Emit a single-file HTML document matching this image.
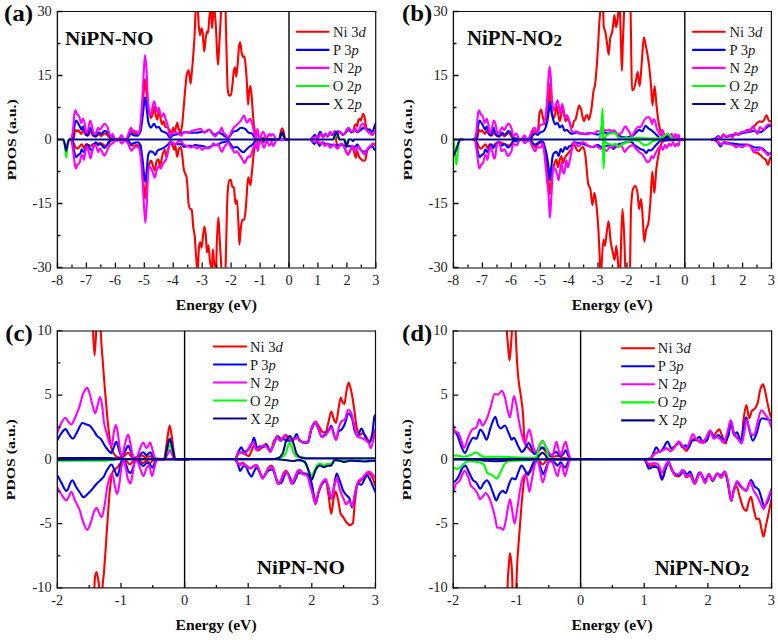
<!DOCTYPE html><html><head><meta charset="utf-8"><style>html,body{margin:0;padding:0;background:#fff;}svg{display:block;}</style></head><body>
<svg width="778" height="640" viewBox="0 0 778 640">
<rect width="778" height="640" fill="#fff"/>
<clipPath id="clipa"><rect x="57.5" y="11.5" width="318.3" height="256.0"/></clipPath>
<g clip-path="url(#clipa)" fill="none" stroke-width="2.10" stroke-linejoin="round" stroke-linecap="round">
<path d="M70.00 139.50 C71.13 139.47 72.27 139.47 73.40 139.40 C74.07 139.36 74.73 129.80 75.40 129.80 C75.93 129.80 76.47 131.40 77.00 131.40 C77.50 131.40 78.00 130.30 78.50 130.30 C79.37 130.30 80.23 133.90 81.10 133.90 C81.77 133.90 82.43 130.80 83.10 130.80 C83.97 130.80 84.83 134.70 85.70 135.00 C86.57 135.30 87.43 135.50 88.30 135.50 C88.97 135.50 89.63 130.80 90.30 130.80 C91.17 130.80 92.03 134.95 92.90 135.50 C93.77 136.05 94.63 136.50 95.50 136.50 C96.53 136.50 97.57 134.40 98.60 134.40 C99.43 134.40 100.27 136.00 101.10 136.00 C102.30 136.00 103.50 133.40 104.70 133.40 C105.73 133.40 106.77 134.60 107.80 135.50 C108.67 136.25 109.53 138.22 110.40 138.60 C111.27 138.98 112.13 139.30 113.00 139.30 C117.33 139.30 121.67 139.30 126.00 139.30 C126.80 139.30 127.60 137.71 128.40 136.50 C129.27 135.19 130.13 130.80 131.00 130.80 C132.00 130.80 133.00 132.33 134.00 132.90 C135.03 133.49 136.07 134.40 137.10 134.40 C138.00 134.40 138.90 133.65 139.80 132.40 C140.60 131.29 141.40 120.09 142.20 111.70 C142.73 106.11 143.27 96.98 143.80 91.00 C144.20 86.52 144.60 79.00 145.00 79.00 C145.50 79.00 146.00 88.35 146.50 92.60 C147.17 98.27 147.83 104.92 148.50 108.50 C149.30 112.80 150.10 118.10 150.90 118.10 C151.43 118.10 151.97 116.42 152.50 114.90 C153.03 113.38 153.57 106.90 154.10 106.90 C154.63 106.90 155.17 112.90 155.70 114.90 C156.23 116.90 156.77 119.70 157.30 119.70 C157.83 119.70 158.37 110.10 158.90 110.10 C159.43 110.10 159.97 115.73 160.50 118.10 C161.03 120.47 161.57 124.50 162.10 124.50 C162.63 124.50 163.17 121.30 163.70 121.30 C164.23 121.30 164.77 126.60 165.30 126.90 C166.10 127.36 166.90 127.22 167.70 127.60 C168.50 127.98 169.30 129.67 170.10 130.80 C170.63 131.56 171.17 133.20 171.70 133.20 C172.20 133.20 172.70 127.60 173.20 127.60 C173.73 127.60 174.27 131.60 174.80 131.60 C175.60 131.60 176.40 122.90 177.20 122.90 C177.73 122.90 178.27 127.79 178.80 129.20 C179.33 130.61 179.87 132.40 180.40 132.40 C180.93 132.40 181.47 129.21 182.00 126.10 C182.47 123.38 182.93 116.26 183.40 111.00 C184.10 103.10 184.80 92.80 185.50 86.00 C186.00 81.15 186.50 75.08 187.00 73.50 C187.53 71.81 188.07 70.40 188.60 70.40 C188.97 70.40 189.33 74.18 189.70 76.60 C190.00 78.58 190.30 83.70 190.60 83.70 C190.97 83.70 191.33 77.26 191.70 73.50 C192.23 68.02 192.77 61.95 193.30 54.80 C193.80 48.10 194.30 41.22 194.80 31.30 C195.07 26.01 195.33 15.43 195.60 11.00 C195.90 6.02 196.20 0.00 196.50 0.00 C196.83 0.00 197.17 0.00 197.50 0.00 C197.67 0.00 197.83 7.54 198.00 11.00 C198.27 16.54 198.53 23.72 198.80 26.60 C199.20 30.93 199.60 35.20 200.00 35.20 C200.53 35.20 201.07 28.20 201.60 28.20 C201.97 28.20 202.33 30.62 202.70 32.90 C203.20 36.00 203.70 51.60 204.20 51.60 C204.73 51.60 205.27 40.62 205.80 37.60 C206.30 34.77 206.80 31.30 207.30 31.30 C207.57 31.30 207.83 32.90 208.10 32.90 C208.53 32.90 208.97 22.05 209.40 17.25 C209.60 15.04 209.80 13.66 210.00 11.00 C210.20 8.34 210.40 0.00 210.60 0.00 C210.82 0.00 211.03 6.80 211.25 11.00 C211.50 15.85 211.75 28.20 212.00 28.20 C212.37 28.20 212.73 19.43 213.10 15.70 C213.27 14.01 213.43 13.20 213.60 11.00 C213.77 8.80 213.93 0.00 214.10 0.00 C214.30 0.00 214.50 7.90 214.70 11.00 C215.10 17.20 215.50 20.12 215.90 26.60 C216.27 32.54 216.63 43.59 217.00 50.00 C217.33 55.83 217.67 64.90 218.00 64.90 C218.33 64.90 218.67 55.41 219.00 50.00 C219.43 42.96 219.87 35.32 220.30 26.60 C220.53 21.90 220.77 16.16 221.00 11.00 C221.17 7.31 221.33 0.00 221.50 0.00 C222.73 0.00 223.97 0.00 225.20 0.00 C225.33 0.00 225.47 6.42 225.60 11.00 C225.77 16.72 225.93 27.25 226.10 34.40 C226.37 45.84 226.63 56.77 226.90 65.70 C227.17 74.63 227.43 86.36 227.70 89.10 C228.05 92.69 228.40 95.40 228.75 95.40 C229.43 95.40 230.12 95.40 230.80 95.40 C231.30 95.40 231.80 89.81 232.30 86.00 C232.83 81.94 233.37 72.68 233.90 70.40 C234.27 68.83 234.63 67.25 235.00 67.25 C235.42 67.25 235.83 76.60 236.25 76.60 C236.77 76.60 237.28 68.18 237.80 62.60 C238.23 57.92 238.67 47.40 239.10 45.40 C239.47 43.70 239.83 42.25 240.20 42.25 C240.70 42.25 241.20 51.36 241.70 53.20 C242.23 55.16 242.77 57.10 243.30 57.10 C243.67 57.10 244.03 56.30 244.40 56.30 C244.80 56.30 245.20 61.78 245.60 65.70 C246.03 69.95 246.47 75.98 246.90 82.90 C247.27 88.76 247.63 104.75 248.00 104.75 C248.37 104.75 248.73 94.88 249.10 92.25 C249.50 89.38 249.90 86.00 250.30 86.00 C250.73 86.00 251.17 91.21 251.60 95.40 C251.97 98.94 252.33 106.26 252.70 111.00 C253.10 116.17 253.50 122.03 253.90 125.20 C254.43 129.43 254.97 132.19 255.50 134.50 C255.87 136.09 256.23 137.99 256.60 138.40 C257.07 138.92 257.53 139.30 258.00 139.30 C259.00 139.30 260.00 139.30 261.00 139.30 C261.77 139.30 262.53 137.90 263.30 137.90 C263.87 137.90 264.43 139.30 265.00 139.30 C269.73 139.30 274.47 139.30 279.20 139.30 C279.77 139.30 280.33 132.67 280.90 131.00 C281.33 129.73 281.77 128.20 282.20 128.20 C282.63 128.20 283.07 129.73 283.50 131.00 C284.07 132.67 284.63 139.30 285.20 139.30 C286.47 139.30 287.73 139.30 289.00 139.30" stroke="#ff0000"/>
<path d="M336.00 139.30 C336.67 137.07 337.33 132.85 338.00 132.60 C338.67 132.35 339.33 132.20 340.00 132.20 C340.87 132.20 341.73 134.60 342.60 134.60 C343.27 134.60 343.93 134.40 344.60 134.10 C345.27 133.80 345.93 130.99 346.60 130.10 C347.30 129.16 348.00 128.00 348.70 128.00 C349.53 128.00 350.37 131.38 351.20 131.60 C351.87 131.78 352.53 131.90 353.20 131.90 C353.73 131.90 354.27 125.91 354.80 125.30 C355.30 124.73 355.80 124.30 356.30 124.30 C356.63 124.30 356.97 126.50 357.30 126.50 C357.63 126.50 357.97 120.80 358.30 120.20 C358.80 119.29 359.30 118.70 359.80 118.70 C360.13 118.70 360.47 120.70 360.80 120.70 C361.17 120.70 361.53 118.24 361.90 117.20 C362.33 115.97 362.77 113.90 363.20 113.90 C363.60 113.90 364.00 115.01 364.40 116.20 C364.73 117.19 365.07 120.37 365.40 122.30 C365.73 124.23 366.07 126.55 366.40 127.80 C366.77 129.17 367.13 130.35 367.50 130.90 C368.00 131.66 368.50 131.97 369.00 132.40 C369.67 132.98 370.33 133.43 371.00 133.90 C371.50 134.25 372.00 134.90 372.50 134.90 C373.00 134.90 373.50 133.19 374.00 132.40 C375.00 130.83 376.00 129.47 377.00 128.00" stroke="#ff0000"/>
<path d="M70.00 139.50 C71.10 140.40 72.20 140.81 73.30 142.20 C74.00 143.08 74.70 146.47 75.40 147.20 C76.10 147.93 76.80 148.60 77.50 148.60 C78.20 148.60 78.90 147.20 79.60 146.50 C80.30 145.80 81.00 144.40 81.70 144.40 C82.43 144.40 83.17 147.90 83.90 147.90 C84.60 147.90 85.30 144.40 86.00 144.40 C86.70 144.40 87.40 144.90 88.10 145.10 C89.03 145.37 89.97 145.80 90.90 145.80 C91.87 145.80 92.83 143.70 93.80 143.70 C94.73 143.70 95.67 144.40 96.60 144.40 C97.53 144.40 98.47 143.00 99.40 143.00 C100.33 143.00 101.27 143.35 102.20 143.70 C103.17 144.06 104.13 145.80 105.10 145.80 C106.03 145.80 106.97 145.07 107.90 144.40 C108.83 143.73 109.77 141.40 110.70 140.80 C111.47 140.31 112.23 139.80 113.00 139.80 C117.67 139.80 122.33 139.80 127.00 139.80 C128.17 139.80 129.33 144.61 130.50 145.10 C131.43 145.49 132.37 145.80 133.30 145.80 C134.27 145.80 135.23 145.10 136.20 145.10 C137.13 145.10 138.07 145.35 139.00 145.80 C139.93 146.25 140.87 155.59 141.80 163.40 C142.37 168.14 142.93 176.75 143.50 183.20 C143.97 188.51 144.43 198.80 144.90 198.80 C145.40 198.80 145.90 189.80 146.40 184.70 C146.87 179.94 147.33 171.59 147.80 169.10 C148.27 166.61 148.73 165.40 149.20 164.20 C149.80 162.66 150.40 160.60 151.00 160.60 C151.70 160.60 152.40 164.49 153.10 166.30 C153.67 167.76 154.23 170.50 154.80 170.50 C155.43 170.50 156.07 161.45 156.70 160.60 C157.30 159.79 157.90 159.20 158.50 159.20 C158.97 159.20 159.43 166.30 159.90 166.30 C160.47 166.30 161.03 161.61 161.60 159.20 C162.00 157.50 162.40 155.10 162.80 154.00 C163.53 151.98 164.27 149.80 165.00 149.80 C165.47 149.80 165.93 156.90 166.40 156.90 C167.10 156.90 167.80 150.67 168.50 148.40 C169.20 146.13 169.90 142.70 170.60 142.70 C171.30 142.70 172.00 144.24 172.70 145.60 C173.17 146.50 173.63 149.80 174.10 149.80 C174.50 149.80 174.90 145.60 175.30 145.60 C175.93 145.60 176.57 156.90 177.20 156.90 C177.83 156.90 178.47 149.23 179.10 148.40 C179.70 147.61 180.30 147.00 180.90 147.00 C181.47 147.00 182.03 153.76 182.60 158.30 C182.93 160.97 183.27 166.01 183.60 168.00 C183.97 170.19 184.33 171.68 184.70 172.70 C185.22 174.14 185.73 174.08 186.25 175.80 C186.67 177.19 187.08 182.05 187.50 186.75 C187.87 190.89 188.23 201.91 188.60 203.90 C189.13 206.80 189.67 208.58 190.20 208.90 C190.70 209.20 191.20 209.08 191.70 209.40 C192.23 209.74 192.77 223.13 193.30 227.40 C193.80 231.40 194.30 232.09 194.80 236.75 C195.07 239.23 195.33 245.24 195.60 249.25 C196.03 255.77 196.47 259.00 196.90 268.00 C197.03 270.77 197.17 280.00 197.30 280.00 C197.40 280.00 197.50 280.00 197.60 280.00 C197.73 280.00 197.87 271.29 198.00 268.00 C198.37 258.94 198.73 248.17 199.10 246.10 C199.50 243.84 199.90 242.20 200.30 242.20 C200.73 242.20 201.17 247.70 201.60 247.70 C202.10 247.70 202.60 238.73 203.10 235.20 C203.57 231.91 204.03 226.60 204.50 226.60 C204.93 226.60 205.37 231.13 205.80 235.20 C206.17 238.65 206.53 252.40 206.90 252.40 C207.40 252.40 207.90 245.30 208.40 245.30 C208.93 245.30 209.47 258.21 210.00 261.75 C210.42 264.51 210.83 264.31 211.25 268.00 C211.43 269.62 211.62 280.00 211.80 280.00 C211.93 280.00 212.07 272.08 212.20 268.00 C212.40 261.89 212.60 249.25 212.80 249.25 C213.20 249.25 213.60 258.97 214.00 261.75 C214.40 264.53 214.80 264.24 215.20 268.00 C215.37 269.56 215.53 280.00 215.70 280.00 C215.87 280.00 216.03 273.17 216.20 268.00 C216.37 262.83 216.53 250.70 216.70 246.10 C217.23 231.39 217.77 217.20 218.30 217.20 C218.67 217.20 219.03 227.70 219.40 233.60 C219.70 238.43 220.00 244.08 220.30 249.25 C220.67 255.56 221.03 261.20 221.40 268.00 C221.60 271.71 221.80 280.00 222.00 280.00 C223.00 280.00 224.00 280.00 225.00 280.00 C225.20 280.00 225.40 273.23 225.60 268.00 C226.03 256.66 226.47 225.35 226.90 211.75 C227.17 203.38 227.43 194.59 227.70 191.40 C228.20 185.41 228.70 180.97 229.20 180.50 C229.73 180.00 230.27 179.70 230.80 179.70 C231.30 179.70 231.80 186.32 232.30 186.75 C232.83 187.21 233.37 187.02 233.90 187.50 C234.43 187.98 234.97 203.90 235.50 203.90 C236.00 203.90 236.50 200.00 237.00 200.00 C237.53 200.00 238.07 217.10 238.60 227.40 C238.87 232.55 239.13 244.60 239.40 244.60 C239.90 244.60 240.40 230.84 240.90 227.40 C241.43 223.74 241.97 219.60 242.50 219.60 C243.13 219.60 243.77 219.60 244.40 219.60 C244.90 219.60 245.40 212.49 245.90 207.00 C246.23 203.34 246.57 196.81 246.90 192.00 C247.10 189.11 247.30 185.49 247.50 183.60 C247.80 180.77 248.10 177.40 248.40 177.40 C248.77 177.40 249.13 180.70 249.50 182.00 C249.83 183.18 250.17 185.10 250.50 185.10 C250.87 185.10 251.23 178.46 251.60 175.00 C251.93 171.85 252.27 168.59 252.60 165.30 C253.07 160.69 253.53 154.00 254.00 151.20 C254.40 148.80 254.80 146.76 255.20 146.00 C255.55 145.33 255.90 145.27 256.25 144.70 C256.77 143.86 257.28 141.43 257.80 140.80 C258.20 140.31 258.60 139.80 259.00 139.80 C260.00 139.80 261.00 139.80 262.00 139.80 C262.50 139.80 263.00 142.50 263.50 142.50 C264.00 142.50 264.50 139.80 265.00 139.80 C273.00 139.80 281.00 139.80 289.00 139.80" stroke="#ff0000"/>
<path d="M336.00 139.80 C336.67 142.50 337.33 147.90 338.00 147.90 C338.67 147.90 339.33 145.03 340.00 144.60 C340.67 144.17 341.33 143.80 342.00 143.80 C342.67 143.80 343.33 145.42 344.00 146.60 C344.70 147.84 345.40 150.44 346.10 151.70 C346.80 152.96 347.50 154.70 348.20 154.70 C348.87 154.70 349.53 152.14 350.20 150.70 C350.87 149.26 351.53 146.00 352.20 146.00 C352.63 146.00 353.07 148.56 353.50 150.00 C353.93 151.44 354.37 153.26 354.80 154.70 C355.13 155.81 355.47 157.80 355.80 157.80 C356.30 157.80 356.80 150.70 357.30 150.70 C357.63 150.70 357.97 153.77 358.30 154.70 C358.80 156.09 359.30 157.13 359.80 157.80 C360.50 158.73 361.20 159.34 361.90 159.80 C362.57 160.24 363.23 160.80 363.90 160.80 C364.40 160.80 364.90 160.42 365.40 159.80 C365.73 159.39 366.07 156.30 366.40 154.70 C366.77 152.94 367.13 150.51 367.50 149.70 C368.00 148.60 368.50 148.19 369.00 147.60 C369.67 146.82 370.33 146.27 371.00 145.60 C371.67 144.93 372.33 143.60 373.00 143.60 C373.67 143.60 374.33 144.61 375.00 145.00 C375.67 145.39 376.33 145.67 377.00 146.00" stroke="#ff0000"/>
<path d="M71.00 139.50 C71.43 139.47 71.87 139.46 72.30 139.40 C73.00 139.30 73.70 130.07 74.40 126.70 C74.90 124.29 75.40 120.60 75.90 120.60 C76.60 120.60 77.30 122.10 78.00 123.10 C78.50 123.81 79.00 124.78 79.50 125.70 C80.20 126.98 80.90 129.80 81.60 129.80 C82.10 129.80 82.60 126.20 83.10 126.20 C83.80 126.20 84.50 131.61 85.20 132.90 C85.87 134.13 86.53 135.50 87.20 135.50 C88.23 135.50 89.27 127.80 90.30 127.80 C91.17 127.80 92.03 132.68 92.90 133.90 C93.77 135.12 94.63 136.50 95.50 136.50 C96.53 136.50 97.57 132.40 98.60 132.40 C99.43 132.40 100.27 133.90 101.10 133.90 C102.30 133.90 103.50 130.80 104.70 130.80 C105.73 130.80 106.77 131.91 107.80 132.90 C108.67 133.73 109.53 137.00 110.40 137.00 C111.07 137.00 111.73 136.00 112.40 136.00 C113.10 136.00 113.80 138.97 114.50 139.00 C118.33 139.17 122.17 139.20 126.00 139.20 C126.80 139.20 127.60 137.88 128.40 137.00 C129.27 136.05 130.13 133.40 131.00 133.40 C132.00 133.40 133.00 135.44 134.00 135.50 C135.17 135.57 136.33 135.60 137.50 135.60 C138.53 135.60 139.57 133.51 140.60 130.80 C141.40 128.70 142.20 119.39 143.00 113.30 C143.67 108.22 144.33 97.40 145.00 97.40 C145.50 97.40 146.00 103.38 146.50 106.90 C147.17 111.59 147.83 120.76 148.50 122.90 C149.30 125.46 150.10 127.60 150.90 127.60 C151.97 127.60 153.03 123.70 154.10 123.70 C154.90 123.70 155.70 127.60 156.50 127.60 C157.30 127.60 158.10 126.90 158.90 126.90 C159.70 126.90 160.50 130.27 161.30 130.80 C162.10 131.33 162.90 131.43 163.70 131.80 C164.80 132.30 165.90 132.65 167.00 133.50 C167.97 134.25 168.93 137.80 169.90 137.80 C170.77 137.80 171.63 135.90 172.50 135.50 C174.00 134.82 175.50 134.60 177.00 134.20 C178.87 133.70 180.73 133.14 182.60 132.80 C183.73 132.59 184.87 132.30 186.00 132.30 C187.70 132.30 189.40 132.80 191.10 132.80 C192.80 132.80 194.50 132.80 196.20 132.80 C198.23 132.80 200.27 131.80 202.30 131.80 C203.27 131.80 204.23 132.10 205.20 132.10 C206.60 132.10 208.00 129.80 209.40 129.80 C210.77 129.80 212.13 134.90 213.50 134.90 C215.20 134.90 216.90 132.80 218.60 132.80 C219.80 132.80 221.00 133.57 222.20 134.20 C223.13 134.69 224.07 135.84 225.00 136.40 C225.97 136.98 226.93 137.80 227.90 137.80 C228.83 137.80 229.77 136.14 230.70 135.00 C231.40 134.15 232.10 132.12 232.80 131.80 C234.17 131.18 235.53 131.31 236.90 130.80 C238.23 130.30 239.57 127.70 240.90 127.70 C242.27 127.70 243.63 128.22 245.00 128.80 C246.33 129.37 247.67 132.41 249.00 132.80 C249.33 132.90 249.67 132.92 250.00 133.00 C250.77 133.19 251.53 133.36 252.30 133.80 C253.10 134.26 253.90 136.71 254.70 137.70 C255.22 138.34 255.73 139.30 256.25 139.30 C264.00 139.30 271.75 139.30 279.50 139.30 C280.00 139.30 280.50 135.17 281.00 134.00 C281.33 133.22 281.67 132.20 282.00 132.20 C282.33 132.20 282.67 133.22 283.00 134.00 C283.50 135.17 284.00 139.25 284.50 139.30 C286.00 139.46 287.50 139.43 289.00 139.50" stroke="#0000ff"/>
<path d="M311.00 139.60 C311.60 138.73 312.20 137.73 312.80 137.00 C313.47 136.19 314.13 134.90 314.80 134.90 C315.53 134.90 316.27 138.20 317.00 138.20 C318.07 138.20 319.13 131.80 320.20 131.80 C321.13 131.80 322.07 136.50 323.00 136.50 C323.77 136.50 324.53 134.20 325.30 134.20 C326.10 134.20 326.90 136.50 327.70 136.50 C328.47 136.50 329.23 133.40 330.00 133.40 C330.77 133.40 331.53 135.00 332.30 135.00 C333.10 135.00 333.90 132.50 334.70 132.50 C335.47 132.50 336.23 133.00 337.00 133.00 C337.33 133.00 337.67 131.40 338.00 131.40 C338.67 131.40 339.33 131.58 340.00 131.80 C340.87 132.09 341.73 134.80 342.60 134.80 C343.93 134.80 345.27 132.69 346.60 131.50 C347.30 130.88 348.00 129.50 348.70 129.50 C349.53 129.50 350.37 132.40 351.20 132.40 C352.57 132.40 353.93 130.00 355.30 130.00 C355.97 130.00 356.63 132.40 357.30 132.40 C358.67 132.40 360.03 130.45 361.40 129.40 C362.07 128.89 362.73 127.80 363.40 127.80 C364.57 127.80 365.73 129.50 366.90 129.50 C367.77 129.50 368.63 129.40 369.50 129.40 C370.17 129.40 370.83 131.90 371.50 131.90 C372.17 131.90 372.83 130.61 373.50 129.40 C374.00 128.49 374.50 125.78 375.00 124.80 C375.67 123.50 376.33 122.93 377.00 122.00" stroke="#0000ff"/>
<path d="M71.00 139.50 C71.53 140.40 72.07 140.77 72.60 142.20 C73.07 143.45 73.53 148.76 74.00 150.70 C74.70 153.60 75.40 157.10 76.10 157.10 C76.80 157.10 77.50 155.56 78.20 155.00 C78.90 154.44 79.60 154.40 80.30 153.60 C80.77 153.07 81.23 149.30 81.70 149.30 C82.43 149.30 83.17 152.10 83.90 152.10 C84.60 152.10 85.30 147.82 86.00 146.50 C86.47 145.62 86.93 144.40 87.40 144.40 C88.10 144.40 88.80 146.86 89.50 147.90 C90.20 148.94 90.90 150.70 91.60 150.70 C92.33 150.70 93.07 146.41 93.80 145.10 C94.50 143.85 95.20 142.20 95.90 142.20 C96.60 142.20 97.30 145.10 98.00 145.10 C98.70 145.10 99.40 143.70 100.10 143.70 C100.80 143.70 101.50 145.12 102.20 145.80 C102.93 146.52 103.67 147.90 104.40 147.90 C105.10 147.90 105.80 146.68 106.50 145.80 C107.20 144.92 107.90 143.08 108.60 142.20 C109.30 141.32 110.00 140.14 110.70 140.10 C115.80 139.84 120.90 139.80 126.00 139.80 C127.03 139.80 128.07 140.67 129.10 141.50 C129.80 142.07 130.50 144.40 131.20 144.40 C132.13 144.40 133.07 143.29 134.00 143.00 C135.20 142.62 136.40 142.20 137.60 142.20 C138.53 142.20 139.47 143.36 140.40 145.10 C141.10 146.40 141.80 153.67 142.50 159.20 C143.00 163.15 143.50 169.62 144.00 173.30 C144.47 176.73 144.93 181.80 145.40 181.80 C145.87 181.80 146.33 174.86 146.80 170.50 C147.27 166.14 147.73 156.46 148.20 155.00 C148.90 152.82 149.60 151.40 150.30 151.40 C151.23 151.40 152.17 151.70 153.10 152.10 C153.83 152.42 154.57 155.00 155.30 155.00 C156.00 155.00 156.70 151.28 157.40 150.70 C158.33 149.93 159.27 149.68 160.20 149.30 C161.07 148.95 161.93 148.80 162.80 148.40 C163.77 147.95 164.73 147.03 165.70 146.30 C166.63 145.60 167.57 145.03 168.50 144.10 C169.20 143.40 169.90 141.30 170.60 141.30 C171.40 141.30 172.20 143.20 173.00 143.50 C173.87 143.82 174.73 144.10 175.60 144.10 C177.47 144.10 179.33 144.10 181.20 144.10 C182.13 144.10 183.07 147.00 184.00 147.00 C184.97 147.00 185.93 146.54 186.90 146.30 C187.83 146.07 188.77 145.60 189.70 145.60 C190.63 145.60 191.57 146.30 192.50 146.30 C193.43 146.30 194.37 144.80 195.30 144.80 C196.27 144.80 197.23 145.43 198.20 145.60 C200.07 145.93 201.93 145.90 203.80 146.30 C204.77 146.50 205.73 147.70 206.70 147.70 C207.63 147.70 208.57 147.29 209.50 147.00 C211.00 146.53 212.50 145.13 214.00 145.00 C215.33 144.88 216.67 144.93 218.00 144.80 C218.93 144.71 219.87 143.00 220.80 142.70 C221.97 142.32 223.13 142.23 224.30 142.00 C225.50 141.76 226.70 141.30 227.90 141.30 C228.83 141.30 229.77 143.05 230.70 144.10 C231.63 145.15 232.57 147.70 233.50 147.70 C234.70 147.70 235.90 147.00 237.10 147.00 C238.03 147.00 238.97 149.02 239.90 149.80 C241.07 150.78 242.23 152.30 243.40 152.30 C244.33 152.30 245.27 150.67 246.20 149.80 C247.17 148.90 248.13 147.85 249.10 147.00 C249.40 146.74 249.70 146.45 250.00 146.25 C250.77 145.73 251.53 145.61 252.30 145.00 C253.10 144.37 253.90 142.42 254.70 141.50 C255.22 140.91 255.73 140.02 256.25 140.00 C267.17 139.54 278.08 139.67 289.00 139.50" stroke="#0000ff"/>
<path d="M311.00 139.80 C311.60 140.70 312.20 141.84 312.80 142.50 C313.33 143.09 313.87 143.90 314.40 143.90 C315.27 143.90 316.13 141.50 317.00 141.50 C317.83 141.50 318.67 145.90 319.50 145.90 C320.50 145.90 321.50 142.30 322.50 142.30 C323.43 142.30 324.37 143.57 325.30 143.80 C326.87 144.18 328.43 144.29 330.00 144.50 C331.33 144.68 332.67 144.83 334.00 145.00 C335.33 145.17 336.67 145.50 338.00 145.50 C339.00 145.50 340.00 144.60 341.00 144.60 C342.00 144.60 343.00 145.28 344.00 145.60 C345.00 145.92 346.00 146.50 347.00 146.50 C348.00 146.50 349.00 146.00 350.00 146.00 C351.07 146.00 352.13 147.60 353.20 147.60 C353.97 147.60 354.73 147.01 355.50 146.50 C356.10 146.10 356.70 144.60 357.30 144.60 C357.97 144.60 358.63 146.61 359.30 147.60 C360.00 148.64 360.70 150.30 361.40 150.70 C362.40 151.26 363.40 151.70 364.40 151.70 C365.40 151.70 366.40 150.51 367.40 149.70 C368.10 149.13 368.80 148.08 369.50 147.60 C370.50 146.92 371.50 146.10 372.50 146.10 C373.17 146.10 373.83 149.15 374.50 149.70 C375.33 150.39 376.17 150.57 377.00 151.00" stroke="#0000ff"/>
<path d="M69.50 139.50 C69.93 139.47 70.37 139.46 70.80 139.40 C71.50 139.30 72.20 135.15 72.90 130.80 C73.40 127.69 73.90 115.46 74.40 113.40 C74.80 111.75 75.20 110.30 75.60 110.30 C76.07 110.30 76.53 113.22 77.00 113.90 C77.50 114.62 78.00 114.71 78.50 115.40 C78.90 115.95 79.30 116.92 79.70 118.00 C80.17 119.26 80.63 123.10 81.10 123.10 C81.77 123.10 82.43 118.50 83.10 118.50 C83.63 118.50 84.17 121.43 84.70 123.70 C85.20 125.83 85.70 132.90 86.20 132.90 C86.80 132.90 87.40 131.27 88.00 129.80 C88.70 128.09 89.40 120.60 90.10 120.60 C90.70 120.60 91.30 123.70 91.90 125.70 C92.57 127.93 93.23 133.90 93.90 133.90 C94.60 133.90 95.30 133.46 96.00 132.90 C96.67 132.36 97.33 127.80 98.00 127.80 C98.70 127.80 99.40 129.80 100.10 129.80 C100.80 129.80 101.50 127.63 102.20 126.70 C103.03 125.59 103.87 123.70 104.70 123.70 C105.57 123.70 106.43 125.18 107.30 126.70 C108.00 127.93 108.70 132.59 109.40 133.90 C110.07 135.15 110.73 136.50 111.40 136.50 C111.73 136.50 112.07 133.90 112.40 133.90 C113.10 133.90 113.80 136.95 114.50 138.00 C115.33 139.25 116.17 141.00 117.00 141.00 C117.87 141.00 118.73 139.11 119.60 138.00 C120.30 137.10 121.00 135.00 121.70 135.00 C122.40 135.00 123.10 138.45 123.80 139.00 C124.47 139.53 125.13 140.00 125.80 140.00 C126.67 140.00 127.53 135.93 128.40 133.90 C129.27 131.87 130.13 127.80 131.00 127.80 C131.67 127.80 132.33 130.63 133.00 130.80 C134.03 131.06 135.07 130.94 136.10 131.20 C136.80 131.37 137.50 134.00 138.20 134.00 C138.73 134.00 139.27 131.66 139.80 129.20 C140.60 125.51 141.40 112.21 142.20 100.60 C142.73 92.86 143.27 80.24 143.80 71.90 C144.20 65.65 144.60 55.10 145.00 55.10 C145.50 55.10 146.00 62.13 146.50 68.70 C146.90 73.96 147.30 90.18 147.70 95.80 C148.23 103.30 148.77 109.92 149.30 111.70 C149.83 113.48 150.37 114.90 150.90 114.90 C151.43 114.90 151.97 109.07 152.50 106.90 C153.03 104.73 153.57 101.40 154.10 101.40 C154.63 101.40 155.17 105.19 155.70 106.90 C156.23 108.61 156.77 111.70 157.30 111.70 C157.83 111.70 158.37 107.70 158.90 107.70 C159.43 107.70 159.97 114.03 160.50 114.90 C161.03 115.77 161.57 116.50 162.10 116.50 C162.63 116.50 163.17 113.30 163.70 113.30 C164.23 113.30 164.77 116.50 165.30 118.10 C165.83 119.70 166.37 121.08 166.90 122.90 C167.43 124.72 167.97 126.81 168.50 129.20 C168.97 131.29 169.43 136.40 169.90 136.40 C170.60 136.40 171.30 134.13 172.00 133.50 C172.70 132.87 173.40 132.10 174.10 132.10 C175.40 132.10 176.70 132.52 178.00 133.00 C179.07 133.39 180.13 135.70 181.20 135.70 C182.13 135.70 183.07 131.80 184.00 131.80 C185.37 131.80 186.73 132.80 188.10 132.80 C189.47 132.80 190.83 131.25 192.20 130.80 C193.53 130.36 194.87 130.13 196.20 129.80 C197.57 129.46 198.93 128.80 200.30 128.80 C201.67 128.80 203.03 132.80 204.40 132.80 C205.73 132.80 207.07 129.50 208.40 129.50 C209.70 129.50 211.00 131.46 212.30 132.80 C213.23 133.76 214.17 136.40 215.10 136.40 C216.07 136.40 217.03 134.08 218.00 133.00 C218.93 131.96 219.87 131.64 220.80 130.00 C221.07 129.53 221.33 127.50 221.60 127.50 C222.27 127.50 222.93 131.80 223.60 132.80 C224.57 134.24 225.53 134.73 226.50 135.70 C227.20 136.40 227.90 137.80 228.60 137.80 C229.30 137.80 230.00 135.00 230.70 133.50 C231.40 132.00 232.10 129.81 232.80 128.80 C234.17 126.83 235.53 126.08 236.90 124.70 C238.23 123.35 239.57 122.29 240.90 120.60 C241.93 119.29 242.97 115.60 244.00 115.60 C245.00 115.60 246.00 122.70 247.00 122.70 C248.00 122.70 249.00 118.90 250.00 118.90 C250.77 118.90 251.53 122.00 252.30 124.40 C253.10 126.90 253.90 132.74 254.70 135.30 C255.10 136.58 255.50 138.40 255.90 138.40 C256.40 138.40 256.90 129.10 257.40 129.10 C257.93 129.10 258.47 135.81 259.00 136.90 C259.40 137.72 259.80 138.50 260.20 138.50 C260.70 138.50 261.20 134.60 261.70 133.75 C262.27 132.79 262.83 131.80 263.40 131.80 C263.87 131.80 264.33 133.97 264.80 135.00 C265.33 136.18 265.87 138.40 266.40 138.40 C266.93 138.40 267.47 136.80 268.00 136.00 C268.50 135.25 269.00 133.75 269.50 133.75 C269.90 133.75 270.30 136.00 270.70 136.00 C271.10 136.00 271.50 134.10 271.90 134.10 C272.40 134.10 272.90 134.27 273.40 134.50 C273.93 134.75 274.47 136.91 275.00 137.70 C275.53 138.49 276.07 139.60 276.60 139.60 C280.73 139.60 284.87 139.53 289.00 139.50" stroke="#ff00ff"/>
<path d="M311.00 139.60 C311.60 139.07 312.20 138.37 312.80 138.00 C313.60 137.51 314.40 136.90 315.20 136.90 C316.10 136.90 317.00 138.40 317.90 138.40 C318.80 138.40 319.70 133.75 320.60 133.75 C321.40 133.75 322.20 137.60 323.00 137.60 C323.77 137.60 324.53 133.40 325.30 133.40 C326.10 133.40 326.90 136.50 327.70 136.50 C328.47 136.50 329.23 131.80 330.00 131.80 C330.77 131.80 331.53 134.50 332.30 134.50 C333.10 134.50 333.90 131.00 334.70 131.00 C335.47 131.00 336.23 132.60 337.00 132.60 C337.33 132.60 337.67 132.47 338.00 132.40 C338.67 132.27 339.33 132.00 340.00 132.00 C340.87 132.00 341.73 134.40 342.60 134.40 C343.27 134.40 343.93 134.20 344.60 133.90 C345.27 133.60 345.93 130.79 346.60 129.90 C347.30 128.96 348.00 127.80 348.70 127.80 C349.53 127.80 350.37 131.05 351.20 131.40 C351.87 131.68 352.53 131.90 353.20 131.90 C353.90 131.90 354.60 128.40 355.30 128.40 C355.97 128.40 356.63 131.90 357.30 131.90 C357.97 131.90 358.63 130.51 359.30 129.40 C359.80 128.57 360.30 126.61 360.80 125.80 C361.50 124.66 362.20 123.30 362.90 123.30 C363.57 123.30 364.23 125.54 364.90 126.80 C365.57 128.06 366.23 130.19 366.90 130.90 C367.60 131.64 368.30 131.89 369.00 132.40 C369.67 132.89 370.33 133.43 371.00 133.90 C371.50 134.25 372.00 134.90 372.50 134.90 C373.00 134.90 373.50 133.21 374.00 132.40 C374.53 131.54 375.07 130.67 375.60 129.90 C376.07 129.22 376.53 128.63 377.00 128.00" stroke="#ff00ff"/>
<path d="M69.50 139.50 C70.03 139.70 70.57 139.74 71.10 140.10 C71.83 140.59 72.57 147.26 73.30 152.10 C73.77 155.18 74.23 160.72 74.70 163.40 C75.07 165.51 75.43 168.40 75.80 168.40 C76.37 168.40 76.93 165.70 77.50 164.90 C78.20 163.92 78.90 163.89 79.60 162.70 C80.17 161.73 80.73 156.29 81.30 155.70 C81.67 155.32 82.03 155.00 82.40 155.00 C82.90 155.00 83.40 159.90 83.90 159.90 C84.37 159.90 84.83 154.05 85.30 152.10 C85.87 149.73 86.43 146.50 87.00 146.50 C87.60 146.50 88.20 150.05 88.80 152.10 C89.37 154.03 89.93 158.50 90.50 158.50 C91.03 158.50 91.57 153.92 92.10 152.10 C92.90 149.37 93.70 145.10 94.50 145.10 C95.20 145.10 95.90 146.07 96.60 147.20 C97.07 147.95 97.53 152.10 98.00 152.10 C98.70 152.10 99.40 148.60 100.10 148.60 C100.80 148.60 101.50 150.94 102.20 152.10 C102.93 153.31 103.67 155.70 104.40 155.70 C105.10 155.70 105.80 153.53 106.50 152.10 C107.07 150.95 107.63 148.98 108.20 147.90 C108.80 146.75 109.40 145.67 110.00 145.10 C110.70 144.44 111.40 144.26 112.10 143.70 C112.83 143.11 113.57 142.23 114.30 141.50 C115.00 140.80 115.70 139.40 116.40 139.40 C117.33 139.40 118.27 139.71 119.20 140.10 C120.13 140.49 121.07 143.70 122.00 143.70 C122.73 143.70 123.47 140.80 124.20 140.80 C125.37 140.80 126.53 141.79 127.70 143.00 C128.40 143.73 129.10 146.40 129.80 147.90 C130.27 148.90 130.73 150.70 131.20 150.70 C131.90 150.70 132.60 149.19 133.30 148.60 C134.27 147.78 135.23 146.50 136.20 146.50 C137.13 146.50 138.07 147.00 139.00 147.90 C139.70 148.57 140.40 154.51 141.10 160.60 C141.57 164.66 142.03 173.20 142.50 180.40 C143.00 188.11 143.50 198.85 144.00 205.90 C144.47 212.48 144.93 222.80 145.40 222.80 C145.87 222.80 146.33 211.22 146.80 203.00 C147.13 197.13 147.47 185.88 147.80 180.40 C148.17 174.38 148.53 166.30 148.90 166.30 C149.60 166.30 150.30 167.42 151.00 168.40 C151.70 169.38 152.40 171.60 153.10 173.30 C153.67 174.68 154.23 177.60 154.80 177.60 C155.43 177.60 156.07 172.16 156.70 170.50 C157.40 168.67 158.10 166.30 158.80 166.30 C159.50 166.30 160.20 168.40 160.90 168.40 C161.53 168.40 162.17 164.96 162.80 163.90 C163.53 162.68 164.27 162.26 165.00 161.10 C165.47 160.36 165.93 159.58 166.40 158.30 C167.10 156.39 167.80 150.99 168.50 148.40 C169.20 145.81 169.90 142.00 170.60 142.00 C171.30 142.00 172.00 142.43 172.70 142.70 C173.67 143.08 174.63 144.10 175.60 144.10 C176.53 144.10 177.47 141.30 178.40 141.30 C179.33 141.30 180.27 141.30 181.20 141.30 C181.90 141.30 182.60 143.45 183.30 144.10 C184.00 144.75 184.70 145.34 185.40 145.60 C186.37 145.96 187.33 145.98 188.30 146.30 C189.23 146.60 190.17 147.70 191.10 147.70 C192.07 147.70 193.03 146.30 194.00 146.30 C194.93 146.30 195.87 148.40 196.80 148.40 C197.73 148.40 198.67 147.00 199.60 147.00 C200.53 147.00 201.47 149.80 202.40 149.80 C203.33 149.80 204.27 147.70 205.20 147.70 C206.17 147.70 207.13 148.40 208.10 148.40 C209.07 148.40 210.03 147.69 211.00 147.00 C211.90 146.36 212.80 143.40 213.70 143.40 C214.40 143.40 215.10 145.60 215.80 145.60 C216.53 145.60 217.27 144.10 218.00 144.10 C218.70 144.10 219.40 147.00 220.10 148.40 C220.70 149.60 221.30 151.90 221.90 151.90 C222.70 151.90 223.50 148.28 224.30 147.00 C225.03 145.83 225.77 144.75 226.50 144.10 C227.20 143.48 227.90 142.70 228.60 142.70 C229.30 142.70 230.00 145.87 230.70 147.00 C231.40 148.13 232.10 148.87 232.80 149.80 C233.50 150.73 234.20 152.60 234.90 152.60 C235.63 152.60 236.37 151.20 237.10 151.20 C237.80 151.20 238.50 153.64 239.20 154.70 C239.90 155.76 240.60 156.54 241.30 157.60 C242.00 158.66 242.70 160.00 243.40 161.10 C243.87 161.83 244.33 163.20 244.80 163.20 C245.53 163.20 246.27 159.31 247.00 158.30 C247.70 157.34 248.40 156.20 249.10 156.20 C249.40 156.20 249.70 157.20 250.00 157.20 C250.40 157.20 250.80 155.99 251.20 155.00 C251.63 153.93 252.07 151.19 252.50 150.00 C253.23 147.99 253.97 146.90 254.70 145.50 C255.20 144.55 255.70 142.80 256.20 142.80 C256.73 142.80 257.27 150.90 257.80 150.90 C258.30 150.90 258.80 143.82 259.30 142.80 C259.83 141.71 260.37 140.80 260.90 140.80 C261.43 140.80 261.97 143.55 262.50 144.70 C263.03 145.85 263.57 147.80 264.10 147.80 C264.63 147.80 265.17 145.09 265.70 143.90 C266.20 142.78 266.70 140.80 267.20 140.80 C267.83 140.80 268.47 145.50 269.10 145.50 C269.53 145.50 269.97 145.15 270.40 144.70 C270.77 144.32 271.13 141.60 271.50 141.60 C272.00 141.60 272.50 145.90 273.00 145.90 C273.53 145.90 274.07 144.78 274.60 143.90 C275.13 143.02 275.67 140.05 276.20 140.00 C280.47 139.56 284.73 139.67 289.00 139.50" stroke="#ff00ff"/>
<path d="M311.00 139.80 C311.60 140.37 312.20 141.36 312.80 141.50 C313.60 141.68 314.40 141.80 315.20 141.80 C316.10 141.80 317.00 140.80 317.90 140.80 C318.67 140.80 319.43 143.90 320.20 143.90 C321.00 143.90 321.80 142.30 322.60 142.30 C323.23 142.30 323.87 145.90 324.50 145.90 C325.57 145.90 326.63 143.60 327.70 143.60 C328.47 143.60 329.23 147.80 330.00 147.80 C331.33 147.80 332.67 144.30 334.00 144.30 C335.00 144.30 336.00 148.60 337.00 148.60 C337.33 148.60 337.67 148.34 338.00 148.10 C338.67 147.61 339.33 145.12 340.00 144.60 C340.67 144.08 341.33 143.60 342.00 143.60 C342.67 143.60 343.33 145.37 344.00 146.60 C344.70 147.90 345.40 150.44 346.10 151.70 C346.80 152.96 347.50 154.70 348.20 154.70 C348.87 154.70 349.53 152.19 350.20 150.70 C350.87 149.21 351.53 145.60 352.20 145.60 C352.80 145.60 353.40 147.58 354.00 148.60 C354.60 149.62 355.20 151.70 355.80 151.70 C356.30 151.70 356.80 148.14 357.30 147.60 C357.80 147.06 358.30 146.60 358.80 146.60 C359.47 146.60 360.13 148.71 360.80 149.70 C361.50 150.74 362.20 151.88 362.90 152.70 C363.57 153.48 364.23 154.70 364.90 154.70 C365.57 154.70 366.23 150.66 366.90 149.70 C367.60 148.70 368.30 148.30 369.00 147.60 C369.67 146.93 370.33 146.27 371.00 145.60 C371.67 144.93 372.33 143.60 373.00 143.60 C373.67 143.60 374.33 144.21 375.00 144.60 C375.67 144.99 376.33 145.53 377.00 146.00" stroke="#ff00ff"/>
<path d="M63.30 139.50 C63.87 142.00 64.43 143.60 65.00 147.00 C65.40 149.40 65.80 157.60 66.20 157.60 C66.60 157.60 67.00 149.58 67.40 147.00 C67.90 143.77 68.40 142.00 68.90 139.50" stroke="#00ff00"/>
<path d="M333.60 139.50 C334.53 137.93 335.47 134.80 336.40 134.80 C337.33 134.80 338.27 137.93 339.20 139.50" stroke="#00ff00"/>
<path d="M344.60 139.50 C345.23 140.67 345.87 143.00 346.50 143.00 C347.17 143.00 347.83 140.67 348.50 139.50" stroke="#00ff00"/>
<path d="M57.00 139.50 C59.10 139.50 61.20 139.50 63.30 139.50 C63.80 139.50 64.30 142.17 64.80 144.00 C65.27 145.71 65.73 150.50 66.20 150.50 C66.67 150.50 67.13 145.71 67.60 144.00 C68.10 142.17 68.60 139.50 69.10 139.50 C139.13 139.50 209.17 139.50 279.20 139.50 C279.73 139.50 280.27 136.19 280.80 135.00 C281.27 133.96 281.73 132.40 282.20 132.40 C282.67 132.40 283.13 133.96 283.60 135.00 C284.13 136.19 284.67 139.50 285.20 139.50 C301.10 139.50 317.00 139.50 332.90 139.50 C334.07 139.50 335.23 131.80 336.40 131.80 C337.50 131.80 338.60 139.50 339.70 139.50 C341.17 139.50 342.63 139.50 344.10 139.50 C344.90 139.50 345.70 146.50 346.50 146.50 C347.33 146.50 348.17 139.50 349.00 139.50 C349.83 139.50 350.67 139.50 351.50 139.50 C351.93 139.50 352.37 141.30 352.80 141.30 C353.27 141.30 353.73 139.50 354.20 139.50 C362.13 139.50 370.07 139.50 378.00 139.50" stroke="#06068a"/>
</g>
<line x1="289.0" y1="11.5" x2="289.0" y2="267.5" stroke="#000" stroke-width="1.4"/>
<line x1="56.90" y1="11.50" x2="376.40" y2="11.50" stroke="#111" stroke-width="1.10"/>
<line x1="56.90" y1="268.00" x2="376.40" y2="268.00" stroke="#000" stroke-width="1.00"/>
<line x1="57.40" y1="11.00" x2="57.40" y2="268.30" stroke="#111" stroke-width="1.35"/>
<line x1="375.70" y1="11.00" x2="375.70" y2="268.30" stroke="#111" stroke-width="1.20"/>
<path d="M57.5 267.5v-5M86.4 267.5v-5M115.4 267.5v-5M144.3 267.5v-5M173.2 267.5v-5M202.2 267.5v-5M231.1 267.5v-5M260.1 267.5v-5M289.0 267.5v-5M317.9 267.5v-5M346.9 267.5v-5M375.8 267.5v-5M72.0 267.5v-3M100.9 267.5v-3M129.8 267.5v-3M158.8 267.5v-3M187.7 267.5v-3M216.7 267.5v-3M245.6 267.5v-3M274.5 267.5v-3M303.5 267.5v-3M332.4 267.5v-3M361.3 267.5v-3M57.5 11.5h5M57.5 75.5h5M57.5 139.5h5M57.5 203.5h5M57.5 267.5h5M57.5 43.5h3M57.5 107.5h3M57.5 171.5h3M57.5 235.5h3" stroke="#111" stroke-width="1.3" fill="none"/>
<clipPath id="clipb"><rect x="453.5" y="11.5" width="318.0" height="256.0"/></clipPath>
<g clip-path="url(#clipb)" fill="none" stroke-width="2.10" stroke-linejoin="round" stroke-linecap="round">
<path d="M473.60 139.50 C474.73 139.47 475.87 139.47 477.00 139.40 C477.67 139.36 478.33 129.80 479.00 129.80 C479.53 129.80 480.07 131.40 480.60 131.40 C481.10 131.40 481.60 130.30 482.10 130.30 C482.97 130.30 483.83 133.90 484.70 133.90 C485.37 133.90 486.03 130.80 486.70 130.80 C487.57 130.80 488.43 134.70 489.30 135.00 C490.17 135.30 491.03 135.50 491.90 135.50 C492.57 135.50 493.23 130.80 493.90 130.80 C494.27 130.80 494.63 133.96 495.00 134.40 C496.27 135.93 497.53 136.80 498.80 136.80 C499.87 136.80 500.93 134.40 502.00 134.40 C502.80 134.40 503.60 136.30 504.40 136.30 C505.80 136.30 507.20 133.00 508.60 133.00 C509.53 133.00 510.47 135.21 511.40 136.30 C512.20 137.24 513.00 138.96 513.80 139.10 C514.87 139.29 515.93 139.40 517.00 139.40 C521.33 139.40 525.67 139.40 530.00 139.40 C530.83 139.40 531.67 134.83 532.50 133.50 C533.30 132.22 534.10 130.60 534.90 130.60 C535.67 130.60 536.43 132.50 537.20 132.50 C537.57 132.50 537.93 129.53 538.30 127.00 C538.70 124.24 539.10 115.06 539.50 113.40 C540.03 111.19 540.57 109.50 541.10 109.50 C541.63 109.50 542.17 114.32 542.70 116.60 C543.20 118.74 543.70 121.69 544.20 122.80 C544.73 123.98 545.27 125.20 545.80 125.20 C546.30 125.20 546.80 119.37 547.30 115.00 C547.73 111.21 548.17 105.05 548.60 99.40 C548.97 94.62 549.33 83.75 549.70 83.75 C550.07 83.75 550.43 94.69 550.80 99.40 C551.20 104.54 551.60 111.47 552.00 113.40 C552.53 115.98 553.07 118.10 553.60 118.10 C554.13 118.10 554.67 115.41 555.20 113.40 C555.70 111.52 556.20 105.60 556.70 105.60 C557.23 105.60 557.77 112.40 558.30 115.00 C558.80 117.43 559.30 121.25 559.80 121.25 C560.33 121.25 560.87 116.21 561.40 113.40 C561.77 111.47 562.13 107.20 562.50 107.20 C563.03 107.20 563.57 112.61 564.10 115.00 C564.60 117.24 565.10 121.25 565.60 121.25 C566.30 121.25 567.00 118.10 567.70 118.10 C568.20 118.10 568.70 120.03 569.20 121.25 C569.73 122.55 570.27 125.07 570.80 125.90 C571.30 126.68 571.80 127.50 572.30 127.50 C572.83 127.50 573.37 122.08 573.90 121.25 C574.43 120.42 574.97 120.55 575.50 119.70 C576.00 118.91 576.50 115.38 577.00 113.40 C577.70 110.63 578.40 105.60 579.10 105.60 C579.70 105.60 580.30 107.19 580.90 108.75 C581.43 110.14 581.97 114.65 582.50 116.60 C583.03 118.55 583.57 121.25 584.10 121.25 C584.60 121.25 585.10 117.36 585.60 116.60 C586.13 115.79 586.67 115.00 587.20 115.00 C587.72 115.00 588.23 119.70 588.75 119.70 C589.27 119.70 589.78 117.06 590.30 115.00 C590.83 112.87 591.37 109.46 591.90 105.60 C592.40 101.99 592.90 94.38 593.40 91.60 C593.93 88.63 594.47 88.38 595.00 85.30 C595.53 82.22 596.07 74.78 596.60 68.00 C597.10 61.65 597.60 53.26 598.10 45.00 C598.57 37.29 599.03 26.85 599.50 20.00 C599.73 16.57 599.97 14.54 600.20 11.00 C600.40 7.96 600.60 0.00 600.80 0.00 C601.47 0.00 602.13 0.00 602.80 0.00 C603.13 0.00 603.47 25.35 603.80 27.20 C604.27 29.78 604.73 29.44 605.20 31.30 C605.90 34.09 606.60 40.84 607.30 45.50 C607.77 48.61 608.23 54.70 608.70 54.70 C609.23 54.70 609.77 39.61 610.30 37.40 C610.83 35.19 611.37 35.29 611.90 33.30 C612.40 31.43 612.90 26.90 613.40 23.20 C613.73 20.73 614.07 15.10 614.40 15.10 C614.93 15.10 615.47 27.20 616.00 27.20 C616.33 27.20 616.67 24.99 617.00 23.20 C617.47 20.69 617.93 17.83 618.40 11.00 C618.53 9.05 618.67 0.00 618.80 0.00 C619.07 0.00 619.33 0.00 619.60 0.00 C619.73 0.00 619.87 7.01 620.00 11.00 C620.30 19.99 620.60 32.04 620.90 41.50 C621.23 52.01 621.57 70.90 621.90 70.90 C622.23 70.90 622.57 50.61 622.90 41.50 C623.30 30.57 623.70 21.64 624.10 11.00 C624.23 7.45 624.37 0.00 624.50 0.00 C626.40 0.00 628.30 0.00 630.20 0.00 C630.33 0.00 630.47 5.93 630.60 11.00 C630.80 18.61 631.00 40.24 631.20 51.60 C631.47 66.74 631.73 90.20 632.00 90.20 C632.57 90.20 633.13 89.76 633.70 89.20 C634.37 88.54 635.03 84.89 635.70 82.10 C636.37 79.31 637.03 71.90 637.70 71.90 C638.37 71.90 639.03 86.10 639.70 86.10 C640.40 86.10 641.10 70.12 641.80 61.80 C642.47 53.88 643.13 37.40 643.80 37.40 C644.47 37.40 645.13 42.34 645.80 45.50 C646.83 50.40 647.87 55.94 648.90 63.80 C649.57 68.87 650.23 76.38 650.90 84.10 C651.43 90.27 651.97 105.40 652.50 105.40 C653.20 105.40 653.90 86.10 654.60 86.10 C655.27 86.10 655.93 100.57 656.60 106.40 C657.40 113.40 658.20 120.63 659.00 124.70 C659.70 128.26 660.40 130.65 661.10 132.80 C661.77 134.84 662.43 137.14 663.10 137.90 C663.73 138.62 664.37 139.30 665.00 139.30 C671.67 139.30 678.33 139.30 685.00 139.30" stroke="#ff0000"/>
<path d="M712.00 139.80 C713.13 139.93 714.27 140.20 715.40 140.20 C716.40 140.20 717.40 137.10 718.40 137.10 C719.13 137.10 719.87 138.60 720.60 138.60 C721.60 138.60 722.60 134.90 723.60 134.90 C724.57 134.90 725.53 137.10 726.50 137.10 C727.50 137.10 728.50 135.60 729.50 135.60 C730.47 135.60 731.43 137.10 732.40 137.10 C733.40 137.10 734.40 133.40 735.40 133.40 C736.37 133.40 737.33 134.90 738.30 134.90 C739.30 134.90 740.30 132.96 741.30 132.60 C742.30 132.24 743.30 132.24 744.30 131.90 C745.27 131.57 746.23 130.39 747.20 130.10 C748.20 129.80 749.20 129.81 750.20 129.50 C751.67 129.04 753.13 127.07 754.60 125.70 C755.60 124.77 756.60 123.47 757.60 122.70 C758.33 122.14 759.07 121.30 759.80 121.30 C760.53 121.30 761.27 122.00 762.00 122.00 C762.73 122.00 763.47 120.79 764.20 119.80 C764.93 118.81 765.67 115.30 766.40 115.30 C766.90 115.30 767.40 117.30 767.90 118.30 C768.40 119.30 768.90 121.30 769.40 121.30 C770.27 121.30 771.13 121.10 772.00 121.00" stroke="#ff0000"/>
<path d="M473.60 139.50 C474.70 140.40 475.80 140.81 476.90 142.20 C477.60 143.08 478.30 146.47 479.00 147.20 C479.70 147.93 480.40 148.60 481.10 148.60 C481.80 148.60 482.50 147.20 483.20 146.50 C483.90 145.80 484.60 144.40 485.30 144.40 C486.03 144.40 486.77 147.90 487.50 147.90 C488.20 147.90 488.90 144.40 489.60 144.40 C490.30 144.40 491.00 144.90 491.70 145.10 C492.63 145.37 493.57 145.80 494.50 145.80 C494.67 145.80 494.83 144.37 495.00 144.20 C496.27 142.91 497.53 142.40 498.80 142.40 C500.67 142.40 502.53 143.20 504.40 143.80 C505.80 144.25 507.20 145.60 508.60 145.60 C509.53 145.60 510.47 144.66 511.40 143.80 C512.20 143.06 513.00 140.10 513.80 140.00 C514.87 139.87 515.93 139.80 517.00 139.80 C521.33 139.80 525.67 139.88 530.00 140.20 C531.17 140.29 532.33 143.17 533.50 144.70 C534.10 145.49 534.70 147.10 535.30 147.10 C536.27 147.10 537.23 144.47 538.20 143.80 C539.13 143.15 540.07 142.40 541.00 142.40 C541.47 142.40 541.93 142.86 542.40 143.40 C543.13 144.24 543.87 148.61 544.60 151.90 C545.30 155.04 546.00 158.16 546.70 163.10 C547.30 167.33 547.90 175.66 548.50 181.40 C548.97 185.86 549.43 194.10 549.90 194.10 C550.37 194.10 550.83 185.22 551.30 181.40 C551.87 176.76 552.43 171.47 553.00 168.80 C553.70 165.51 554.40 163.12 555.10 161.70 C555.57 160.75 556.03 159.60 556.50 159.60 C556.97 159.60 557.43 167.40 557.90 167.40 C558.60 167.40 559.30 160.73 560.00 158.90 C560.47 157.68 560.93 156.10 561.40 156.10 C561.87 156.10 562.33 163.10 562.80 163.10 C563.53 163.10 564.27 158.78 565.00 157.50 C565.70 156.28 566.40 155.63 567.10 154.70 C567.80 153.77 568.50 152.83 569.20 151.90 C569.90 150.97 570.60 150.40 571.30 149.10 C571.87 148.05 572.43 144.10 573.00 144.10 C573.70 144.10 574.40 145.19 575.10 146.10 C575.77 146.97 576.43 149.66 577.10 150.20 C577.77 150.74 578.43 151.20 579.10 151.20 C579.80 151.20 580.50 148.75 581.20 148.20 C581.87 147.67 582.53 147.10 583.20 147.10 C583.87 147.10 584.53 150.71 585.20 154.30 C585.73 157.17 586.27 164.92 586.80 170.20 C587.27 174.82 587.73 182.19 588.20 184.00 C588.90 186.71 589.60 186.33 590.30 188.80 C591.00 191.27 591.70 205.10 592.40 205.10 C593.07 205.10 593.73 192.90 594.40 192.90 C595.07 192.90 595.73 199.64 596.40 205.10 C597.10 210.83 597.80 220.00 598.50 231.50 C599.03 240.26 599.57 255.47 600.10 268.00 C600.27 271.92 600.43 280.00 600.60 280.00 C600.77 280.00 600.93 280.00 601.10 280.00 C601.23 280.00 601.37 270.79 601.50 268.00 C602.17 254.04 602.83 239.60 603.50 239.60 C604.00 239.60 604.50 245.70 605.00 245.70 C605.53 245.70 606.07 237.13 606.60 233.50 C607.27 228.96 607.93 221.30 608.60 221.30 C609.30 221.30 610.00 237.06 610.70 241.70 C611.37 246.12 612.03 248.78 612.70 251.80 C613.37 254.82 614.03 260.00 614.70 260.00 C615.23 260.00 615.77 245.70 616.30 245.70 C617.00 245.70 617.70 256.81 618.40 268.00 C618.57 270.67 618.73 280.00 618.90 280.00 C619.27 280.00 619.63 280.00 620.00 280.00 C620.13 280.00 620.27 271.97 620.40 268.00 C621.07 248.14 621.73 209.10 622.40 209.10 C622.90 209.10 623.40 220.36 623.90 229.50 C624.37 238.03 624.83 256.17 625.30 268.00 C625.47 272.23 625.63 280.00 625.80 280.00 C627.03 280.00 628.27 280.00 629.50 280.00 C629.67 280.00 629.83 273.43 630.00 268.00 C630.33 257.14 630.67 215.36 631.00 209.10 C631.67 196.57 632.33 190.32 633.00 188.80 C633.80 186.98 634.60 185.80 635.40 185.80 C636.10 185.80 636.80 189.27 637.50 192.90 C638.03 195.67 638.57 209.10 639.10 209.10 C639.77 209.10 640.43 199.00 641.10 199.00 C641.67 199.00 642.23 211.51 642.80 219.30 C643.27 225.71 643.73 241.70 644.20 241.70 C644.87 241.70 645.53 232.13 646.20 229.50 C646.90 226.74 647.60 226.58 648.30 223.40 C648.97 220.37 649.63 211.25 650.30 203.00 C650.97 194.75 651.63 171.50 652.30 171.50 C652.97 171.50 653.63 192.90 654.30 192.90 C655.00 192.90 655.70 174.29 656.40 168.50 C657.10 162.71 657.80 158.68 658.50 155.00 C659.27 150.96 660.03 146.60 660.80 144.80 C661.37 143.47 661.93 142.46 662.50 142.00 C663.50 141.19 664.50 140.58 665.50 140.50 C672.00 139.95 678.50 140.03 685.00 139.80" stroke="#ff0000"/>
<path d="M712.00 139.20 C713.13 139.53 714.27 139.72 715.40 140.20 C716.40 140.62 717.40 141.65 718.40 142.40 C719.37 143.12 720.33 144.60 721.30 144.60 C722.30 144.60 723.30 141.70 724.30 141.70 C725.27 141.70 726.23 142.77 727.20 143.10 C728.20 143.44 729.20 143.65 730.20 143.90 C731.20 144.15 732.20 144.24 733.20 144.60 C734.17 144.95 735.13 146.80 736.10 146.80 C737.10 146.80 738.10 145.30 739.10 145.30 C740.07 145.30 741.03 146.80 742.00 146.80 C743.00 146.80 744.00 145.62 745.00 145.30 C746.00 144.98 747.00 144.60 748.00 144.60 C749.20 144.60 750.40 146.54 751.60 147.90 C752.60 149.04 753.60 151.90 754.60 152.30 C755.60 152.70 756.60 152.64 757.60 153.00 C758.57 153.35 759.53 154.46 760.50 155.30 C761.50 156.17 762.50 157.41 763.50 158.20 C764.23 158.78 764.97 158.92 765.70 159.70 C766.43 160.48 767.17 164.90 767.90 164.90 C768.63 164.90 769.37 159.42 770.10 158.20 C770.73 157.15 771.37 156.73 772.00 156.00" stroke="#ff0000"/>
<path d="M474.60 139.50 C475.03 139.47 475.47 139.46 475.90 139.40 C476.60 139.30 477.30 130.07 478.00 126.70 C478.50 124.29 479.00 120.60 479.50 120.60 C480.20 120.60 480.90 122.10 481.60 123.10 C482.10 123.81 482.60 124.78 483.10 125.70 C483.80 126.98 484.50 129.80 485.20 129.80 C485.70 129.80 486.20 126.20 486.70 126.20 C487.40 126.20 488.10 131.61 488.80 132.90 C489.47 134.13 490.13 135.50 490.80 135.50 C491.83 135.50 492.87 127.80 493.90 127.80 C494.27 127.80 494.63 131.83 495.00 132.50 C496.27 134.82 497.53 136.30 498.80 136.30 C499.87 136.30 500.93 132.50 502.00 132.50 C502.80 132.50 503.60 134.90 504.40 134.90 C505.80 134.90 507.20 131.10 508.60 131.10 C509.53 131.10 510.47 132.79 511.40 134.00 C512.20 135.04 513.00 137.86 513.80 138.10 C514.87 138.42 515.93 138.40 517.00 138.60 C518.00 138.79 519.00 139.30 520.00 139.30 C523.33 139.30 526.67 139.30 530.00 139.30 C531.00 139.30 532.00 136.28 533.00 135.30 C533.77 134.55 534.53 133.50 535.30 133.50 C536.10 133.50 536.90 134.90 537.70 134.90 C538.47 134.90 539.23 132.88 540.00 132.50 C540.93 132.03 541.87 132.08 542.80 131.60 C543.53 131.22 544.27 130.28 545.00 129.00 C545.77 127.66 546.53 124.78 547.30 121.25 C547.83 118.79 548.37 114.21 548.90 110.30 C549.27 107.61 549.63 101.70 550.00 101.70 C550.42 101.70 550.83 107.86 551.25 110.30 C551.77 113.32 552.28 116.28 552.80 118.10 C553.60 120.92 554.40 124.40 555.20 124.40 C555.97 124.40 556.73 122.80 557.50 122.80 C558.27 122.80 559.03 127.50 559.80 127.50 C560.60 127.50 561.40 125.20 562.20 125.20 C562.97 125.20 563.73 130.60 564.50 130.60 C565.30 130.60 566.10 129.80 566.90 129.80 C567.67 129.80 568.43 131.59 569.20 132.20 C570.00 132.84 570.80 133.75 571.60 133.75 C572.63 133.75 573.67 133.26 574.70 133.00 C575.73 132.74 576.77 132.20 577.80 132.20 C578.83 132.20 579.87 133.75 580.90 133.75 C582.47 133.75 584.03 133.75 585.60 133.75 C587.17 133.75 588.73 133.00 590.30 133.00 C591.87 133.00 593.43 133.71 595.00 134.00 C596.00 134.19 597.00 134.50 598.00 134.50 C599.00 134.50 600.00 133.82 601.00 133.50 C602.10 133.15 603.20 132.50 604.30 132.50 C605.30 132.50 606.30 133.50 607.30 133.50 C608.33 133.50 609.37 132.83 610.40 132.50 C611.43 132.17 612.47 131.50 613.50 131.50 C614.20 131.50 614.90 132.46 615.60 133.00 C616.60 133.77 617.60 134.86 618.60 135.50 C619.63 136.16 620.67 136.89 621.70 137.10 C623.07 137.38 624.43 137.60 625.80 137.60 C627.20 137.60 628.60 136.99 630.00 136.60 C631.00 136.32 632.00 136.10 633.00 135.60 C634.03 135.08 635.07 133.44 636.10 132.50 C637.13 131.56 638.17 129.90 639.20 129.90 C640.23 129.90 641.27 131.50 642.30 131.50 C643.33 131.50 644.37 125.80 645.40 125.80 C646.43 125.80 647.47 127.65 648.50 128.40 C649.53 129.15 650.57 129.64 651.60 130.40 C652.60 131.14 653.60 132.07 654.60 133.00 C655.63 133.96 656.67 135.04 657.70 136.10 C658.47 136.88 659.23 138.17 660.00 138.50 C661.00 138.94 662.00 139.28 663.00 139.30 C670.33 139.47 677.67 139.43 685.00 139.50" stroke="#0000ff"/>
<path d="M712.00 139.50 C713.13 139.17 714.27 139.00 715.40 138.50 C716.40 138.06 717.40 136.00 718.40 136.00 C719.13 136.00 719.87 138.30 720.60 138.30 C721.60 138.30 722.60 134.60 723.60 134.60 C724.57 134.60 725.53 137.00 726.50 137.00 C727.50 137.00 728.50 136.09 729.50 135.80 C731.47 135.22 733.43 134.88 735.40 134.50 C737.37 134.12 739.33 133.86 741.30 133.50 C743.27 133.14 745.23 132.71 747.20 132.30 C748.47 132.04 749.73 131.74 751.00 131.50 C752.20 131.28 753.40 130.90 754.60 130.90 C755.60 130.90 756.60 131.58 757.60 131.80 C758.57 132.01 759.53 132.30 760.50 132.30 C761.50 132.30 762.50 130.85 763.50 130.10 C764.47 129.38 765.43 128.62 766.40 127.90 C767.40 127.15 768.40 125.70 769.40 125.70 C770.27 125.70 771.13 125.90 772.00 126.00" stroke="#0000ff"/>
<path d="M474.60 139.50 C475.13 140.40 475.67 140.77 476.20 142.20 C476.67 143.45 477.13 148.76 477.60 150.70 C478.30 153.60 479.00 157.10 479.70 157.10 C480.40 157.10 481.10 155.56 481.80 155.00 C482.50 154.44 483.20 154.40 483.90 153.60 C484.37 153.07 484.83 149.30 485.30 149.30 C486.03 149.30 486.77 152.10 487.50 152.10 C488.20 152.10 488.90 147.82 489.60 146.50 C490.07 145.62 490.53 144.40 491.00 144.40 C491.70 144.40 492.40 147.90 493.10 147.90 C493.73 147.90 494.37 146.29 495.00 145.60 C496.27 144.22 497.53 141.90 498.80 141.90 C499.73 141.90 500.67 145.60 501.60 145.60 C502.53 145.60 503.47 144.20 504.40 144.20 C505.63 144.20 506.87 147.50 508.10 147.50 C509.20 147.50 510.30 145.98 511.40 144.70 C512.20 143.77 513.00 140.50 513.80 140.50 C514.87 140.50 515.93 141.40 517.00 141.40 C518.00 141.40 519.00 140.00 520.00 140.00 C523.33 140.00 526.67 140.13 530.00 140.50 C531.17 140.63 532.33 143.06 533.50 143.80 C534.10 144.18 534.70 144.70 535.30 144.70 C536.27 144.70 537.23 143.35 538.20 142.80 C539.13 142.27 540.07 141.40 541.00 141.40 C541.70 141.40 542.40 141.62 543.10 142.00 C543.60 142.27 544.10 144.65 544.60 146.30 C545.30 148.62 546.00 151.10 546.70 154.70 C547.30 157.79 547.90 162.63 548.50 167.40 C548.97 171.11 549.43 180.00 549.90 180.00 C550.37 180.00 550.83 171.37 551.30 167.40 C551.77 163.43 552.23 157.66 552.70 156.10 C553.27 154.20 553.83 152.93 554.40 152.60 C555.10 152.19 555.80 151.90 556.50 151.90 C557.20 151.90 557.90 156.10 558.60 156.10 C559.30 156.10 560.00 149.10 560.70 149.10 C561.40 149.10 562.10 151.90 562.80 151.90 C563.53 151.90 564.27 147.00 565.00 147.00 C565.70 147.00 566.40 149.10 567.10 149.10 C567.80 149.10 568.50 146.67 569.20 146.30 C569.90 145.93 570.60 145.96 571.30 145.60 C572.23 145.12 573.17 142.00 574.10 142.00 C575.13 142.00 576.17 142.60 577.20 142.80 C578.50 143.05 579.80 143.12 581.10 143.40 C582.53 143.70 583.97 144.41 585.40 144.90 C586.80 145.38 588.20 145.99 589.60 146.30 C591.00 146.61 592.40 147.00 593.80 147.00 C594.20 147.00 594.60 145.98 595.00 145.80 C596.00 145.34 597.00 145.00 598.00 145.00 C599.07 145.00 600.13 146.90 601.20 146.90 C602.23 146.90 603.27 146.58 604.30 146.40 C605.30 146.22 606.30 146.09 607.30 145.80 C608.00 145.60 608.70 144.80 609.40 144.80 C610.10 144.80 610.80 146.20 611.50 146.90 C612.17 147.57 612.83 148.90 613.50 148.90 C614.53 148.90 615.57 146.61 616.60 145.80 C617.63 144.99 618.67 144.07 619.70 143.80 C620.73 143.53 621.77 143.53 622.80 143.30 C623.80 143.08 624.80 142.38 625.80 142.20 C627.20 141.94 628.60 141.70 630.00 141.70 C630.67 141.70 631.33 141.92 632.00 142.20 C632.70 142.49 633.40 144.18 634.10 144.80 C635.13 145.72 636.17 146.21 637.20 146.90 C638.20 147.57 639.20 148.44 640.20 148.90 C641.23 149.38 642.27 149.46 643.30 150.00 C644.33 150.54 645.37 153.00 646.40 153.00 C647.10 153.00 647.80 150.00 648.50 150.00 C649.33 150.00 650.17 150.50 651.00 150.50 C651.87 150.50 652.73 148.84 653.60 147.90 C654.47 146.96 655.33 145.74 656.20 144.80 C657.07 143.86 657.93 142.95 658.80 142.20 C659.53 141.56 660.27 140.58 661.00 140.50 C669.00 139.66 677.00 139.83 685.00 139.50" stroke="#0000ff"/>
<path d="M712.00 139.50 C713.13 139.83 714.27 140.01 715.40 140.50 C716.17 140.83 716.93 141.46 717.70 142.20 C718.67 143.13 719.63 146.40 720.60 146.40 C721.47 146.40 722.33 142.70 723.20 142.70 C724.13 142.70 725.07 143.50 726.00 143.50 C727.33 143.50 728.67 143.20 730.00 143.20 C731.67 143.20 733.33 143.79 735.00 144.00 C736.67 144.21 738.33 144.50 740.00 144.50 C741.67 144.50 743.33 144.50 745.00 144.50 C746.67 144.50 748.33 145.06 750.00 145.50 C751.67 145.94 753.33 147.50 755.00 147.50 C756.67 147.50 758.33 147.50 760.00 147.50 C761.17 147.50 762.33 148.49 763.50 149.30 C764.47 149.97 765.43 151.65 766.40 152.30 C767.40 152.98 768.40 153.80 769.40 153.80 C770.27 153.80 771.13 153.27 772.00 153.00" stroke="#0000ff"/>
<path d="M473.10 139.50 C473.53 139.47 473.97 139.46 474.40 139.40 C475.10 139.30 475.80 135.15 476.50 130.80 C477.00 127.69 477.50 115.46 478.00 113.40 C478.40 111.75 478.80 110.30 479.20 110.30 C479.67 110.30 480.13 113.22 480.60 113.90 C481.10 114.62 481.60 114.71 482.10 115.40 C482.50 115.95 482.90 116.92 483.30 118.00 C483.77 119.26 484.23 123.10 484.70 123.10 C485.37 123.10 486.03 118.50 486.70 118.50 C487.23 118.50 487.77 121.43 488.30 123.70 C488.80 125.83 489.30 132.90 489.80 132.90 C490.40 132.90 491.00 131.27 491.60 129.80 C492.30 128.09 493.00 120.60 493.70 120.60 C494.13 120.60 494.57 121.43 495.00 122.20 C495.93 123.85 496.87 133.50 497.80 133.50 C498.53 133.50 499.27 132.03 500.00 131.00 C500.67 130.07 501.33 127.40 502.00 127.40 C502.80 127.40 503.60 130.20 504.40 130.20 C505.10 130.20 505.80 127.02 506.50 126.00 C507.20 124.98 507.90 123.60 508.60 123.60 C509.53 123.60 510.47 125.63 511.40 127.80 C512.03 129.27 512.67 136.30 513.30 136.30 C513.93 136.30 514.57 134.89 515.20 134.40 C515.67 134.04 516.13 133.50 516.60 133.50 C517.23 133.50 517.87 137.31 518.50 138.10 C519.27 139.06 520.03 140.00 520.80 140.00 C521.57 140.00 522.33 138.19 523.10 137.20 C523.57 136.60 524.03 135.30 524.50 135.30 C525.13 135.30 525.77 139.10 526.40 139.10 C527.20 139.10 528.00 138.67 528.80 138.10 C529.40 137.67 530.00 135.71 530.60 134.40 C531.40 132.66 532.20 129.47 533.00 128.80 C533.63 128.27 534.27 127.80 534.90 127.80 C535.37 127.80 535.83 132.50 536.30 132.50 C536.93 132.50 537.57 132.14 538.20 131.60 C538.80 131.09 539.40 125.27 540.00 125.00 C540.90 124.60 541.80 124.77 542.70 124.40 C543.47 124.09 544.23 122.31 545.00 119.70 C545.63 117.55 546.27 109.84 546.90 102.50 C547.40 96.70 547.90 84.89 548.40 79.00 C548.83 73.89 549.27 66.60 549.70 66.60 C550.10 66.60 550.50 73.67 550.90 79.00 C551.27 83.89 551.63 95.64 552.00 99.40 C552.53 104.87 553.07 110.30 553.60 110.30 C554.27 110.30 554.93 107.32 555.60 105.60 C556.23 103.97 556.87 100.20 557.50 100.20 C558.03 100.20 558.57 104.66 559.10 107.20 C559.50 109.10 559.90 113.40 560.30 113.40 C560.93 113.40 561.57 104.00 562.20 104.00 C562.72 104.00 563.23 107.98 563.75 110.30 C564.27 112.62 564.78 118.10 565.30 118.10 C565.83 118.10 566.37 115.00 566.90 115.00 C567.40 115.00 567.90 116.75 568.40 118.10 C568.93 119.54 569.47 122.32 570.00 124.40 C570.53 126.48 571.07 129.94 571.60 130.60 C572.37 131.54 573.13 132.20 573.90 132.20 C574.68 132.20 575.47 131.40 576.25 131.40 C577.30 131.40 578.35 133.75 579.40 133.75 C580.43 133.75 581.47 133.00 582.50 133.00 C583.53 133.00 584.57 134.50 585.60 134.50 C586.65 134.50 587.70 134.00 588.75 133.75 C589.80 133.50 590.85 133.00 591.90 133.00 C592.93 133.00 593.97 133.50 595.00 133.50 C595.70 133.50 596.40 131.00 597.10 131.00 C598.07 131.00 599.03 131.50 600.00 131.50 C601.07 131.50 602.13 129.40 603.20 129.40 C604.23 129.40 605.27 130.50 606.30 130.50 C607.33 130.50 608.37 129.90 609.40 129.90 C610.10 129.90 610.80 131.50 611.50 131.50 C612.33 131.50 613.17 130.40 614.00 130.40 C614.87 130.40 615.73 132.37 616.60 133.00 C617.47 133.63 618.33 134.50 619.20 134.50 C620.03 134.50 620.87 133.46 621.70 132.50 C622.40 131.70 623.10 129.42 623.80 128.40 C624.40 127.53 625.00 126.30 625.60 126.30 C626.20 126.30 626.80 128.51 627.40 129.40 C628.07 130.39 628.73 130.91 629.40 132.00 C630.10 133.14 630.80 136.60 631.50 136.60 C632.20 136.60 632.90 134.64 633.60 133.50 C634.43 132.14 635.27 129.97 636.10 128.90 C636.80 128.00 637.50 126.80 638.20 126.80 C638.87 126.80 639.53 127.30 640.20 127.30 C640.90 127.30 641.60 125.47 642.30 124.30 C643.00 123.13 643.70 121.17 644.40 120.10 C645.07 119.08 645.73 117.87 646.40 117.60 C647.10 117.32 647.80 117.10 648.50 117.10 C649.17 117.10 649.83 118.06 650.50 119.10 C651.03 119.93 651.57 124.30 652.10 124.30 C652.60 124.30 653.10 119.10 653.60 119.10 C654.13 119.10 654.67 120.09 655.20 121.20 C655.70 122.24 656.20 126.98 656.70 128.40 C657.40 130.39 658.10 131.29 658.80 132.50 C659.47 133.65 660.13 135.60 660.80 135.60 C661.33 135.60 661.87 129.90 662.40 129.90 C662.90 129.90 663.40 132.09 663.90 133.50 C664.43 135.00 664.97 139.00 665.50 139.00 C666.17 139.00 666.83 134.50 667.50 134.50 C668.17 134.50 668.83 138.00 669.50 138.00 C670.20 138.00 670.90 133.50 671.60 133.50 C672.23 133.50 672.87 138.50 673.50 138.50 C674.17 138.50 674.83 133.80 675.50 133.80 C676.00 133.80 676.50 138.00 677.00 138.00 C677.50 138.00 678.00 134.50 678.50 134.50 C679.00 134.50 679.50 139.50 680.00 139.50 C681.67 139.50 683.33 139.50 685.00 139.50" stroke="#ff00ff"/>
<path d="M712.00 139.50 C713.13 139.63 714.27 139.90 715.40 139.90 C716.40 139.90 717.40 136.80 718.40 136.80 C719.13 136.80 719.87 138.30 720.60 138.30 C721.60 138.30 722.60 134.60 723.60 134.60 C724.57 134.60 725.53 136.80 726.50 136.80 C727.50 136.80 728.50 135.30 729.50 135.30 C730.47 135.30 731.43 136.80 732.40 136.80 C733.40 136.80 734.40 133.10 735.40 133.10 C736.37 133.10 737.33 134.60 738.30 134.60 C739.30 134.60 740.30 132.66 741.30 132.30 C742.30 131.94 743.30 131.60 744.30 131.60 C745.27 131.60 746.23 131.60 747.20 131.60 C748.20 131.60 749.20 130.82 750.20 130.10 C751.17 129.40 752.13 126.40 753.10 126.40 C753.83 126.40 754.57 129.75 755.30 130.90 C756.07 132.10 756.83 133.80 757.60 133.80 C758.33 133.80 759.07 127.20 759.80 127.20 C760.53 127.20 761.27 128.26 762.00 128.60 C762.73 128.94 763.47 129.40 764.20 129.40 C764.93 129.40 765.67 126.28 766.40 125.70 C767.40 124.91 768.40 124.20 769.40 124.20 C770.27 124.20 771.13 126.07 772.00 127.00" stroke="#ff00ff"/>
<path d="M473.10 139.50 C473.63 139.70 474.17 139.74 474.70 140.10 C475.43 140.59 476.17 147.26 476.90 152.10 C477.37 155.18 477.83 160.72 478.30 163.40 C478.67 165.51 479.03 168.40 479.40 168.40 C479.97 168.40 480.53 165.70 481.10 164.90 C481.80 163.92 482.50 163.89 483.20 162.70 C483.77 161.73 484.33 156.29 484.90 155.70 C485.27 155.32 485.63 155.00 486.00 155.00 C486.50 155.00 487.00 159.90 487.50 159.90 C487.97 159.90 488.43 154.05 488.90 152.10 C489.47 149.73 490.03 146.50 490.60 146.50 C491.20 146.50 491.80 150.05 492.40 152.10 C492.97 154.03 493.53 158.50 494.10 158.50 C494.40 158.50 494.70 158.18 495.00 157.80 C495.63 156.99 496.27 145.83 496.90 144.70 C497.67 143.33 498.43 142.40 499.20 142.40 C500.00 142.40 500.80 151.30 501.60 151.30 C502.53 151.30 503.47 149.40 504.40 149.40 C505.63 149.40 506.87 156.00 508.10 156.00 C509.20 156.00 510.30 153.70 511.40 151.30 C512.03 149.92 512.67 143.80 513.30 143.80 C513.93 143.80 514.57 144.48 515.20 144.70 C515.80 144.91 516.40 145.20 517.00 145.20 C517.63 145.20 518.27 141.58 518.90 141.00 C519.60 140.36 520.30 139.80 521.00 139.80 C521.70 139.80 522.40 140.45 523.10 141.00 C523.73 141.49 524.37 143.30 525.00 143.30 C525.63 143.30 526.27 141.63 526.90 141.00 C527.67 140.24 528.43 139.10 529.20 139.10 C529.83 139.10 530.47 142.28 531.10 143.80 C531.90 145.72 532.70 148.26 533.50 149.40 C534.10 150.26 534.70 151.30 535.30 151.30 C535.93 151.30 536.57 146.60 537.20 146.60 C537.83 146.60 538.47 147.50 539.10 147.50 C539.73 147.50 540.37 147.43 541.00 147.30 C541.47 147.20 541.93 143.40 542.40 143.40 C542.87 143.40 543.33 146.47 543.80 149.10 C544.30 151.92 544.80 158.25 545.30 163.10 C545.77 167.62 546.23 172.51 546.70 177.20 C547.40 184.24 548.10 189.02 548.80 198.30 C549.17 203.16 549.53 218.00 549.90 218.00 C550.37 218.00 550.83 205.78 551.30 198.30 C551.63 192.96 551.97 184.97 552.30 180.00 C552.63 175.03 552.97 167.40 553.30 167.40 C553.90 167.40 554.50 168.09 555.10 168.80 C555.80 169.63 556.50 172.13 557.20 174.40 C557.67 175.91 558.13 180.00 558.60 180.00 C559.07 180.00 559.53 174.42 560.00 171.60 C560.47 168.78 560.93 163.10 561.40 163.10 C561.87 163.10 562.33 170.35 562.80 171.60 C563.20 172.67 563.60 173.70 564.00 173.70 C564.47 173.70 564.93 168.62 565.40 166.00 C565.73 164.13 566.07 160.30 566.40 160.30 C566.87 160.30 567.33 167.40 567.80 167.40 C568.27 167.40 568.73 164.88 569.20 163.10 C569.67 161.32 570.13 158.43 570.60 156.10 C571.07 153.77 571.53 151.11 572.00 149.10 C572.70 146.09 573.40 141.30 574.10 141.30 C574.80 141.30 575.50 142.59 576.20 143.40 C576.90 144.21 577.60 146.30 578.30 146.30 C579.00 146.30 579.70 145.53 580.40 144.90 C581.10 144.27 581.80 142.00 582.50 142.00 C583.47 142.00 584.43 142.76 585.40 143.40 C586.33 144.02 587.27 146.02 588.20 146.30 C589.60 146.72 591.00 147.00 592.40 147.00 C593.27 147.00 594.13 145.80 595.00 145.80 C596.00 145.80 597.00 146.52 598.00 147.00 C599.07 147.51 600.13 148.90 601.20 148.90 C601.97 148.90 602.73 148.00 603.50 148.00 C604.43 148.00 605.37 151.00 606.30 151.00 C607.33 151.00 608.37 148.02 609.40 147.50 C610.43 146.98 611.47 146.77 612.50 146.50 C613.53 146.23 614.57 145.80 615.60 145.80 C616.27 145.80 616.93 146.90 617.60 146.90 C618.63 146.90 619.67 144.80 620.70 144.80 C621.40 144.80 622.10 146.79 622.80 148.00 C623.47 149.15 624.13 152.00 624.80 152.00 C625.50 152.00 626.20 149.85 626.90 149.00 C627.57 148.19 628.23 147.37 628.90 146.90 C629.60 146.41 630.30 146.16 631.00 145.80 C631.67 145.46 632.33 144.80 633.00 144.80 C633.70 144.80 634.40 147.07 635.10 147.90 C635.80 148.73 636.50 149.30 637.20 150.00 C637.87 150.67 638.53 151.45 639.20 152.00 C640.23 152.85 641.27 153.11 642.30 154.10 C643.33 155.09 644.37 157.55 645.40 159.20 C646.07 160.26 646.73 162.30 647.40 162.30 C648.10 162.30 648.80 161.86 649.50 161.30 C650.20 160.74 650.90 156.10 651.60 156.10 C652.10 156.10 652.60 158.20 653.10 158.20 C653.60 158.20 654.10 156.11 654.60 155.10 C655.30 153.69 656.00 152.18 656.70 151.00 C657.40 149.82 658.10 148.76 658.80 147.90 C659.47 147.08 660.13 145.80 660.80 145.80 C661.50 145.80 662.20 150.00 662.90 150.00 C663.60 150.00 664.30 144.80 665.00 144.80 C665.67 144.80 666.33 147.90 667.00 147.90 C667.67 147.90 668.33 143.80 669.00 143.80 C669.70 143.80 670.40 145.80 671.10 145.80 C671.73 145.80 672.37 142.00 673.00 142.00 C673.67 142.00 674.33 146.50 675.00 146.50 C675.67 146.50 676.33 143.50 677.00 143.50 C677.50 143.50 678.00 145.80 678.50 145.80 C679.00 145.80 679.50 140.12 680.00 140.00 C681.67 139.61 683.33 139.67 685.00 139.50" stroke="#ff00ff"/>
<path d="M712.00 139.50 C713.13 139.83 714.27 140.02 715.40 140.50 C716.40 140.92 717.40 141.95 718.40 142.70 C719.37 143.42 720.33 144.90 721.30 144.90 C722.30 144.90 723.30 142.00 724.30 142.00 C725.27 142.00 726.23 143.07 727.20 143.40 C728.20 143.74 729.20 143.95 730.20 144.20 C731.20 144.45 732.20 144.54 733.20 144.90 C734.17 145.25 735.13 147.10 736.10 147.10 C737.10 147.10 738.10 145.60 739.10 145.60 C740.07 145.60 741.03 147.10 742.00 147.10 C743.00 147.10 744.00 145.92 745.00 145.60 C746.00 145.28 747.00 144.90 748.00 144.90 C749.00 144.90 750.00 146.06 751.00 147.10 C751.97 148.11 752.93 152.30 753.90 152.30 C754.63 152.30 755.37 149.30 756.10 149.30 C756.83 149.30 757.57 150.80 758.30 150.80 C759.03 150.80 759.77 147.90 760.50 147.90 C761.50 147.90 762.50 150.01 763.50 150.80 C764.23 151.38 764.97 151.63 765.70 152.30 C766.43 152.97 767.17 155.30 767.90 155.30 C768.63 155.30 769.37 154.38 770.10 153.80 C770.73 153.30 771.37 152.60 772.00 152.00" stroke="#ff00ff"/>
<path d="M453.60 141.00 C453.90 143.33 454.20 145.38 454.50 148.00 C454.83 150.91 455.17 155.02 455.50 158.00 C455.77 160.38 456.03 164.50 456.30 164.50 C456.60 164.50 456.90 160.51 457.20 158.00 C457.53 155.21 457.87 150.60 458.20 148.00 C458.57 145.14 458.93 141.77 459.30 141.00 C459.70 140.16 460.10 140.00 460.50 139.50" stroke="#00ff00"/>
<path d="M599.50 139.50 C600.17 134.67 600.83 131.74 601.50 125.00 C601.87 121.29 602.23 108.50 602.60 108.50 C602.73 108.50 602.87 115.79 603.00 125.00 C603.07 129.60 603.13 150.21 603.20 155.00 C603.30 162.18 603.40 168.50 603.50 168.50 C603.73 168.50 603.97 159.14 604.20 155.00 C604.57 148.49 604.93 138.06 605.30 137.10 C605.97 135.35 606.63 134.86 607.30 134.50 C608.33 133.94 609.37 133.72 610.40 133.50 C611.43 133.28 612.47 133.00 613.50 133.00 C614.37 133.00 615.23 133.43 616.10 134.00 C616.77 134.43 617.43 137.27 618.10 137.60 C619.07 138.08 620.03 138.40 621.00 138.40 C626.03 138.40 631.07 137.90 636.10 137.90 C642.73 137.90 649.37 138.60 656.00 138.60 C657.60 138.60 659.20 138.39 660.80 138.10 C662.17 137.85 663.53 136.56 664.90 135.60 C665.77 134.99 666.63 133.50 667.50 133.50 C668.37 133.50 669.23 134.73 670.10 135.60 C670.90 136.41 671.70 138.51 672.50 138.80 C673.67 139.23 674.83 139.27 676.00 139.50" stroke="#00ff00"/>
<path d="M604.50 140.00 C605.10 140.93 605.70 142.34 606.30 142.80 C607.33 143.60 608.37 144.05 609.40 144.30 C610.43 144.55 611.47 144.80 612.50 144.80 C613.53 144.80 614.57 143.80 615.60 143.80 C616.27 143.80 616.93 145.34 617.60 145.80 C618.30 146.28 619.00 146.90 619.70 146.90 C620.37 146.90 621.03 144.66 621.70 144.30 C622.73 143.74 623.77 143.67 624.80 143.30 C625.87 142.92 626.93 142.45 628.00 142.00 C629.00 141.58 630.00 140.94 631.00 140.70 C632.00 140.46 633.00 140.20 634.00 140.20 C635.40 140.20 636.80 140.41 638.20 140.70 C639.57 140.98 640.93 143.00 642.30 143.80 C643.33 144.40 644.37 145.30 645.40 145.30 C646.43 145.30 647.47 144.78 648.50 144.30 C649.53 143.82 650.57 142.17 651.60 141.70 C653.30 140.93 655.00 140.58 656.70 140.20 C657.80 139.96 658.90 139.80 660.00 139.60" stroke="#00ff00"/>
<path d="M453.00 139.50 C523.33 139.50 593.67 139.50 664.00 139.50 C665.00 139.50 666.00 136.60 667.00 136.60 C668.00 136.60 669.00 139.50 670.00 139.50 C705.00 139.50 740.00 139.50 775.00 139.50" stroke="#06068a"/>
<path d="M452.50 157.00 C453.00 156.33 453.50 155.85 454.00 155.00 C454.50 154.15 455.00 152.80 455.50 151.50 C456.07 150.03 456.63 148.12 457.20 146.50 C457.80 144.79 458.40 142.57 459.00 141.50 C459.50 140.61 460.00 139.50 460.50 139.50 C461.33 139.50 462.17 139.50 463.00 139.50" stroke="#06068a"/>
</g>
<line x1="684.8" y1="11.5" x2="684.8" y2="267.5" stroke="#000" stroke-width="1.4"/>
<line x1="452.90" y1="11.50" x2="772.10" y2="11.50" stroke="#111" stroke-width="1.10"/>
<line x1="452.90" y1="268.00" x2="772.10" y2="268.00" stroke="#000" stroke-width="1.00"/>
<line x1="453.40" y1="11.00" x2="453.40" y2="268.30" stroke="#111" stroke-width="1.35"/>
<line x1="771.40" y1="11.00" x2="771.40" y2="268.30" stroke="#111" stroke-width="1.20"/>
<path d="M453.5 267.5v-5M482.4 267.5v-5M511.3 267.5v-5M540.2 267.5v-5M569.1 267.5v-5M598.0 267.5v-5M627.0 267.5v-5M655.9 267.5v-5M684.8 267.5v-5M713.7 267.5v-5M742.6 267.5v-5M771.5 267.5v-5M468.0 267.5v-3M496.9 267.5v-3M525.8 267.5v-3M554.7 267.5v-3M583.6 267.5v-3M612.5 267.5v-3M641.4 267.5v-3M670.3 267.5v-3M699.2 267.5v-3M728.1 267.5v-3M757.0 267.5v-3M453.5 11.5h5M453.5 75.5h5M453.5 139.5h5M453.5 203.5h5M453.5 267.5h5M453.5 43.5h3M453.5 107.5h3M453.5 171.5h3M453.5 235.5h3" stroke="#111" stroke-width="1.3" fill="none"/>
<clipPath id="clipc"><rect x="57.4" y="330.8" width="318.0" height="257.1"/></clipPath>
<g clip-path="url(#clipc)" fill="none" stroke-width="2.10" stroke-linejoin="round" stroke-linecap="round">
<path d="M50.00 300.00 C64.00 300.00 78.00 300.00 92.00 300.00 C92.33 300.00 92.67 322.91 93.00 330.00 C93.53 341.34 94.07 355.40 94.60 355.40 C95.13 355.40 95.67 342.46 96.20 330.00 C96.47 323.77 96.73 300.00 97.00 300.00 C98.00 300.00 99.00 300.00 100.00 300.00 C100.23 300.00 100.47 324.32 100.70 330.00 C101.37 346.23 102.03 351.07 102.70 360.50 C103.37 369.93 104.03 378.66 104.70 386.90 C105.40 395.56 106.10 403.72 106.80 411.30 C107.47 418.52 108.13 426.03 108.80 431.60 C109.47 437.17 110.13 443.04 110.80 445.80 C111.50 448.70 112.20 450.57 112.90 451.90 C113.90 453.80 114.90 455.28 115.90 456.00 C116.93 456.74 117.97 457.50 119.00 457.50 C120.00 457.50 121.00 457.37 122.00 457.20 C123.00 457.03 124.00 456.21 125.00 455.50 C126.03 454.76 127.07 452.50 128.10 452.50 C129.07 452.50 130.03 455.09 131.00 456.00 C132.00 456.94 133.00 458.30 134.00 458.30 C135.33 458.30 136.67 457.87 138.00 457.50 C139.43 457.10 140.87 455.50 142.30 455.50 C143.33 455.50 144.37 457.50 145.40 457.50 C146.27 457.50 147.13 456.66 148.00 456.50 C148.83 456.35 149.67 456.20 150.50 456.20 C151.33 456.20 152.17 457.83 153.00 458.00 C156.67 458.77 160.33 459.10 164.00 459.10 C164.50 459.10 165.00 454.83 165.50 452.00 C166.23 447.85 166.97 440.46 167.70 436.00 C168.37 431.95 169.03 425.50 169.70 425.50 C170.37 425.50 171.03 431.86 171.70 436.00 C172.40 440.35 173.10 448.26 173.80 452.00 C174.37 455.03 174.93 459.10 175.50 459.10 C180.00 459.10 184.50 459.10 189.00 459.10" stroke="#ff0000"/>
<path d="M235.60 459.10 C237.03 456.87 238.47 452.40 239.90 452.40 C241.10 452.40 242.30 452.91 243.50 453.30 C245.30 453.89 247.10 456.00 248.90 456.00 C249.80 456.00 250.70 452.40 251.60 450.60 C252.50 448.80 253.40 445.20 254.30 445.20 C255.50 445.20 256.70 450.60 257.90 450.60 C259.10 450.60 260.30 448.87 261.50 447.90 C263.00 446.68 264.50 443.90 266.00 443.90 C267.50 443.90 269.00 451.50 270.50 451.50 C271.70 451.50 272.90 442.51 274.10 440.70 C275.37 438.79 276.63 436.90 277.90 436.90 C279.13 436.90 280.37 438.80 281.60 438.80 C282.87 438.80 284.13 435.10 285.40 435.10 C286.33 435.10 287.27 438.10 288.20 438.80 C289.43 439.73 290.67 440.70 291.90 440.70 C292.83 440.70 293.77 439.20 294.70 438.80 C295.67 438.39 296.63 437.90 297.60 437.90 C298.53 437.90 299.47 440.06 300.40 440.70 C301.63 441.55 302.87 442.60 304.10 442.60 C305.37 442.60 306.63 442.23 307.90 441.60 C309.13 440.99 310.37 430.25 311.60 427.60 C312.87 424.87 314.13 421.90 315.40 421.90 C316.63 421.90 317.87 424.92 319.10 426.60 C320.37 428.33 321.63 432.20 322.90 432.20 C323.83 432.20 324.77 432.20 325.70 432.20 C326.63 432.20 327.57 425.33 328.50 421.90 C329.43 418.47 330.37 411.60 331.30 411.60 C332.23 411.60 333.17 418.15 334.10 420.00 C334.73 421.26 335.37 422.90 336.00 422.90 C336.93 422.90 337.87 411.83 338.80 406.90 C339.43 403.56 340.07 397.50 340.70 397.50 C341.33 397.50 341.97 401.30 342.60 402.20 C343.23 403.10 343.87 404.10 344.50 404.10 C345.10 404.10 345.70 394.99 346.30 391.90 C347.07 387.95 347.83 382.50 348.60 382.50 C349.40 382.50 350.20 386.78 351.00 390.00 C351.97 393.90 352.93 400.60 353.90 406.90 C354.83 412.99 355.77 423.93 356.70 427.60 C357.63 431.27 358.57 435.10 359.50 435.10 C360.43 435.10 361.37 433.20 362.30 433.20 C363.23 433.20 364.17 434.25 365.10 435.10 C366.37 436.26 367.63 440.70 368.90 440.70 C369.83 440.70 370.77 439.81 371.70 438.80 C372.63 437.79 373.57 432.94 374.50 431.30 C375.33 429.84 376.17 429.10 377.00 428.00" stroke="#ff0000"/>
<path d="M50.00 620.00 C64.63 620.00 79.27 620.00 93.90 620.00 C94.10 620.00 94.30 589.74 94.50 585.00 C94.67 581.05 94.83 578.47 95.00 577.40 C95.50 574.20 96.00 572.10 96.50 572.10 C97.07 572.10 97.63 575.88 98.20 579.50 C98.53 581.63 98.87 582.59 99.20 590.00 C99.30 592.22 99.40 620.00 99.50 620.00 C100.33 620.00 101.17 620.00 102.00 620.00 C102.13 620.00 102.27 593.03 102.40 590.00 C102.90 578.63 103.40 579.40 103.90 573.20 C104.60 564.52 105.30 553.74 106.00 543.60 C106.57 535.39 107.13 526.20 107.70 518.30 C108.40 508.54 109.10 497.87 109.80 490.90 C110.50 483.93 111.20 476.24 111.90 474.00 C112.60 471.76 113.30 470.52 114.00 469.80 C115.07 468.71 116.13 468.65 117.20 467.70 C118.23 466.78 119.27 464.58 120.30 463.40 C121.37 462.18 122.43 460.30 123.50 460.30 C124.53 460.30 125.57 460.80 126.60 461.30 C127.67 461.82 128.73 464.50 129.80 464.50 C130.87 464.50 131.93 461.95 133.00 461.30 C134.40 460.44 135.80 459.50 137.20 459.50 C138.13 459.50 139.07 460.44 140.00 461.00 C141.03 461.62 142.07 463.10 143.10 463.10 C144.23 463.10 145.37 461.00 146.50 461.00 C147.73 461.00 148.97 463.10 150.20 463.10 C151.13 463.10 152.07 461.08 153.00 460.50 C154.00 459.88 155.00 459.10 156.00 459.10 C167.00 459.10 178.00 459.10 189.00 459.10" stroke="#ff0000"/>
<path d="M235.10 459.10 C235.97 460.30 236.83 461.88 237.70 462.70 C238.53 463.49 239.37 464.50 240.20 464.50 C240.97 464.50 241.73 462.50 242.50 462.50 C243.47 462.50 244.43 464.01 245.40 464.80 C246.43 465.64 247.47 467.02 248.50 467.40 C249.33 467.70 250.17 468.00 251.00 468.00 C251.87 468.00 252.73 466.40 253.60 466.00 C254.63 465.52 255.67 465.00 256.70 465.00 C257.53 465.00 258.37 468.25 259.20 470.00 C260.40 472.52 261.60 478.00 262.80 478.00 C263.67 478.00 264.53 475.56 265.40 474.00 C266.27 472.44 267.13 469.54 268.00 468.40 C269.03 467.04 270.07 465.50 271.10 465.50 C271.77 465.50 272.43 466.40 273.10 467.40 C273.80 468.45 274.50 472.67 275.20 475.00 C276.07 477.89 276.93 483.00 277.80 483.00 C278.63 483.00 279.47 482.29 280.30 481.50 C281.33 480.52 282.37 475.13 283.40 473.50 C284.27 472.13 285.13 470.50 286.00 470.50 C286.87 470.50 287.73 472.86 288.60 474.60 C289.60 476.60 290.60 483.00 291.60 483.00 C292.63 483.00 293.67 479.70 294.70 477.70 C295.73 475.70 296.77 471.58 297.80 470.80 C298.50 470.27 299.20 469.80 299.90 469.80 C300.93 469.80 301.97 473.39 303.00 473.80 C304.00 474.19 305.00 474.09 306.00 474.50 C306.70 474.78 307.40 476.00 308.10 477.00 C308.67 477.81 309.23 478.60 309.80 480.00 C310.73 482.31 311.67 489.16 312.60 493.20 C313.53 497.24 314.47 504.40 315.40 504.40 C316.33 504.40 317.27 496.09 318.20 493.20 C319.47 489.28 320.73 485.64 322.00 483.80 C323.23 482.01 324.47 480.00 325.70 480.00 C326.63 480.00 327.57 489.44 328.50 495.00 C329.43 500.56 330.37 513.80 331.30 513.80 C332.07 513.80 332.83 502.54 333.60 498.80 C334.23 495.71 334.87 491.30 335.50 491.30 C336.30 491.30 337.10 495.66 337.90 498.80 C338.83 502.46 339.77 511.78 340.70 513.80 C341.63 515.82 342.57 516.21 343.50 517.60 C344.43 518.99 345.37 521.21 346.30 522.20 C347.57 523.54 348.83 525.10 350.10 525.10 C351.03 525.10 351.97 524.46 352.90 523.20 C353.53 522.34 354.17 507.83 354.80 502.50 C355.73 494.65 356.67 485.49 357.60 483.80 C358.87 481.51 360.13 481.27 361.40 480.00 C362.63 478.77 363.87 477.35 365.10 476.30 C366.37 475.22 367.63 473.50 368.90 473.50 C370.13 473.50 371.37 475.96 372.60 478.10 C373.53 479.72 374.47 483.99 375.40 485.70 C375.93 486.68 376.47 487.23 377.00 488.00" stroke="#ff0000"/>
<path d="M56.00 442.00 C56.33 441.57 56.67 441.18 57.00 440.70 C58.37 438.73 59.73 435.36 61.10 433.60 C62.57 431.71 64.03 429.10 65.50 429.10 C66.73 429.10 67.97 433.01 69.20 434.60 C70.40 436.15 71.60 438.70 72.80 438.70 C74.30 438.70 75.80 434.04 77.30 431.60 C79.00 428.83 80.70 423.00 82.40 423.00 C83.77 423.00 85.13 424.02 86.50 424.50 C87.50 424.85 88.50 424.99 89.50 425.50 C90.87 426.20 92.23 428.65 93.60 430.50 C94.93 432.31 96.27 435.37 97.60 436.60 C98.63 437.55 99.67 437.70 100.70 438.70 C101.70 439.67 102.70 442.22 103.70 443.80 C105.07 445.96 106.43 448.33 107.80 449.80 C109.00 451.09 110.20 452.90 111.40 452.90 C112.23 452.90 113.07 448.69 113.90 446.80 C114.70 444.98 115.50 441.70 116.30 441.70 C117.20 441.70 118.10 447.29 119.00 449.80 C120.00 452.59 121.00 457.60 122.00 457.60 C123.00 457.60 124.00 453.83 125.00 451.90 C126.03 449.90 127.07 445.80 128.10 445.80 C129.10 445.80 130.10 449.90 131.10 451.90 C132.13 453.97 133.17 458.00 134.20 458.00 C134.80 458.00 135.40 457.73 136.00 457.50 C137.17 457.05 138.33 455.85 139.50 455.00 C140.70 454.12 141.90 452.30 143.10 452.30 C144.27 452.30 145.43 455.20 146.60 455.20 C147.80 455.20 149.00 452.30 150.20 452.30 C151.13 452.30 152.07 455.21 153.00 456.50 C153.67 457.42 154.33 459.10 155.00 459.10 C158.23 459.10 161.47 459.10 164.70 459.10 C165.37 459.10 166.03 452.71 166.70 450.00 C167.73 445.79 168.77 438.75 169.80 438.75 C170.80 438.75 171.80 445.86 172.80 450.00 C173.47 452.76 174.13 459.10 174.80 459.10 C179.53 459.10 184.27 459.10 189.00 459.10" stroke="#0000ff"/>
<path d="M235.60 459.10 C236.53 456.73 237.47 453.85 238.40 452.00 C239.37 450.09 240.33 447.30 241.30 447.30 C242.23 447.30 243.17 452.00 244.10 452.00 C245.67 452.00 247.23 450.57 248.80 449.10 C249.73 448.22 250.67 446.35 251.60 444.40 C252.40 442.73 253.20 437.90 254.00 437.90 C255.07 437.90 256.13 448.20 257.20 448.20 C258.13 448.20 259.07 446.30 260.00 446.30 C260.93 446.30 261.87 447.30 262.80 447.30 C264.07 447.30 265.33 445.40 266.60 445.40 C267.83 445.40 269.07 451.00 270.30 451.00 C271.57 451.00 272.83 446.00 274.10 443.50 C275.37 441.00 276.63 436.00 277.90 436.00 C278.83 436.00 279.77 440.70 280.70 440.70 C281.63 440.70 282.57 438.80 283.50 438.80 C284.43 438.80 285.37 440.70 286.30 440.70 C287.53 440.70 288.77 440.70 290.00 440.70 C291.27 440.70 292.53 439.80 293.80 438.80 C294.73 438.06 295.67 434.10 296.60 434.10 C297.53 434.10 298.47 440.01 299.40 440.70 C300.97 441.85 302.53 442.60 304.10 442.60 C305.37 442.60 306.63 442.60 307.90 442.60 C309.13 442.60 310.37 431.76 311.60 429.00 C312.87 426.16 314.13 422.90 315.40 422.90 C316.33 422.90 317.27 426.52 318.20 428.50 C319.43 431.12 320.67 436.90 321.90 436.90 C322.93 436.90 323.97 435.46 325.00 434.50 C326.17 433.42 327.33 432.02 328.50 430.40 C329.43 429.10 330.37 425.70 331.30 425.70 C332.23 425.70 333.17 432.34 334.10 435.00 C334.73 436.80 335.37 439.80 336.00 439.80 C336.93 439.80 337.87 432.31 338.80 431.30 C339.77 430.25 340.73 430.31 341.70 429.40 C342.63 428.52 343.57 426.61 344.50 424.70 C345.87 421.90 347.23 413.50 348.60 413.50 C349.73 413.50 350.87 415.74 352.00 418.20 C352.93 420.23 353.87 428.99 354.80 431.30 C355.73 433.61 356.67 436.00 357.60 436.00 C358.87 436.00 360.13 428.50 361.40 428.50 C362.33 428.50 363.27 432.08 364.20 434.10 C365.13 436.12 366.07 439.72 367.00 440.70 C367.93 441.68 368.87 442.60 369.80 442.60 C370.73 442.60 371.67 436.39 372.60 431.30 C373.23 427.85 373.87 417.64 374.50 416.30 C375.00 415.24 375.50 414.69 376.00 414.40 C376.33 414.20 376.67 414.13 377.00 414.00" stroke="#0000ff"/>
<path d="M56.00 474.00 C56.33 474.33 56.67 474.60 57.00 475.00 C58.40 476.69 59.80 480.04 61.20 482.40 C62.97 485.37 64.73 490.90 66.50 490.90 C68.40 490.90 70.30 480.30 72.20 480.30 C73.47 480.30 74.73 484.69 76.00 486.70 C77.40 488.92 78.80 491.05 80.20 493.00 C81.27 494.49 82.33 497.20 83.40 497.20 C84.80 497.20 86.20 495.21 87.60 494.00 C89.00 492.79 90.40 491.36 91.80 489.80 C93.20 488.24 94.60 486.04 96.00 484.50 C97.43 482.92 98.87 481.72 100.30 480.30 C101.33 479.28 102.37 478.58 103.40 477.20 C104.47 475.78 105.53 472.50 106.60 470.80 C108.23 468.20 109.87 464.50 111.50 464.50 C112.47 464.50 113.43 467.85 114.40 469.80 C115.33 471.68 116.27 476.10 117.20 476.10 C118.10 476.10 119.00 470.64 119.90 467.70 C120.73 464.98 121.57 459.10 122.40 459.10 C123.47 459.10 124.53 461.50 125.60 463.40 C126.67 465.30 127.73 471.08 128.80 471.90 C129.50 472.44 130.20 472.90 130.90 472.90 C131.60 472.90 132.30 469.53 133.00 467.70 C134.03 465.01 135.07 459.10 136.10 459.10 C137.23 459.10 138.37 461.44 139.50 462.50 C140.83 463.75 142.17 466.00 143.50 466.00 C144.57 466.00 145.63 463.00 146.70 463.00 C147.63 463.00 148.57 463.48 149.50 464.00 C150.47 464.54 151.43 467.80 152.40 467.80 C153.27 467.80 154.13 463.51 155.00 462.00 C155.67 460.84 156.33 459.10 157.00 459.10 C167.67 459.10 178.33 459.10 189.00 459.10" stroke="#0000ff"/>
<path d="M235.10 459.10 C235.90 460.47 236.70 461.50 237.50 463.20 C238.40 465.11 239.30 470.90 240.20 470.90 C241.23 470.90 242.27 466.30 243.30 466.30 C244.00 466.30 244.70 466.30 245.40 466.30 C246.43 466.30 247.47 470.82 248.50 472.50 C249.50 474.12 250.50 476.60 251.50 476.60 C252.37 476.60 253.23 473.04 254.10 471.50 C254.97 469.96 255.83 467.30 256.70 467.30 C257.53 467.30 258.37 470.04 259.20 471.50 C260.40 473.60 261.60 478.10 262.80 478.10 C263.83 478.10 264.87 474.73 265.90 473.50 C266.93 472.27 267.97 470.90 269.00 470.40 C270.03 469.90 271.07 469.40 272.10 469.40 C273.13 469.40 274.17 473.25 275.20 475.60 C276.23 477.95 277.27 483.80 278.30 483.80 C279.33 483.80 280.37 483.39 281.40 482.80 C282.43 482.21 283.47 477.49 284.50 475.60 C285.17 474.38 285.83 472.50 286.50 472.50 C287.53 472.50 288.57 474.86 289.60 476.60 C290.63 478.34 291.67 483.80 292.70 483.80 C293.70 483.80 294.70 480.54 295.70 478.70 C296.73 476.80 297.77 472.50 298.80 472.50 C299.83 472.50 300.87 473.50 301.90 473.50 C303.27 473.50 304.63 473.50 306.00 473.50 C306.87 473.50 307.73 474.36 308.60 475.60 C309.10 476.32 309.60 481.70 310.10 481.70 C310.30 481.70 310.50 480.00 310.70 480.00 C311.63 480.00 312.57 489.24 313.50 493.20 C314.30 496.59 315.10 502.50 315.90 502.50 C316.67 502.50 317.43 496.42 318.20 494.00 C319.47 490.01 320.73 485.29 322.00 483.80 C323.23 482.35 324.47 481.00 325.70 481.00 C326.63 481.00 327.57 484.75 328.50 487.50 C329.43 490.25 330.37 498.80 331.30 498.80 C332.23 498.80 333.17 490.16 334.10 485.70 C334.93 481.72 335.77 473.50 336.60 473.50 C337.67 473.50 338.73 478.29 339.80 481.00 C341.03 484.13 342.27 489.13 343.50 491.30 C344.43 492.95 345.37 493.94 346.30 495.00 C347.27 496.10 348.23 496.41 349.20 497.90 C350.13 499.34 351.07 507.20 352.00 507.20 C352.93 507.20 353.87 498.89 354.80 495.00 C355.73 491.11 356.67 483.80 357.60 483.80 C358.87 483.80 360.13 484.70 361.40 484.70 C362.33 484.70 363.27 481.57 364.20 480.00 C365.13 478.43 366.07 475.30 367.00 475.30 C367.93 475.30 368.87 477.49 369.80 479.10 C370.73 480.71 371.67 483.57 372.60 485.70 C373.73 488.29 374.87 490.99 376.00 493.20 C376.33 493.85 376.67 494.40 377.00 495.00" stroke="#0000ff"/>
<path d="M56.00 436.00 C56.33 435.20 56.67 434.41 57.00 433.60 C58.37 430.27 59.73 425.71 61.10 423.40 C62.57 420.92 64.03 417.80 65.50 417.80 C66.40 417.80 67.30 420.35 68.20 421.40 C69.20 422.57 70.20 424.50 71.20 424.50 C72.57 424.50 73.93 420.13 75.30 417.30 C76.63 414.54 77.97 411.09 79.30 407.20 C80.67 403.21 82.03 395.68 83.40 393.00 C84.63 390.59 85.87 387.90 87.10 387.90 C87.90 387.90 88.70 390.79 89.50 393.00 C90.50 395.76 91.50 401.76 92.50 405.20 C93.40 408.30 94.30 413.30 95.20 413.30 C96.00 413.30 96.80 407.86 97.60 405.20 C98.43 402.43 99.27 397.00 100.10 397.00 C100.77 397.00 101.43 401.43 102.10 405.20 C102.77 408.97 103.43 419.77 104.10 423.40 C105.00 428.31 105.90 430.38 106.80 433.60 C107.80 437.18 108.80 442.31 109.80 443.80 C110.47 444.79 111.13 445.80 111.80 445.80 C112.50 445.80 113.20 434.66 113.90 431.60 C114.57 428.68 115.23 425.10 115.90 425.10 C116.57 425.10 117.23 429.95 117.90 433.60 C118.60 437.43 119.30 446.37 120.00 449.80 C120.67 453.06 121.33 457.00 122.00 457.00 C123.00 457.00 124.00 447.35 125.00 443.80 C126.03 440.13 127.07 434.60 128.10 434.60 C128.90 434.60 129.70 440.37 130.50 443.80 C131.40 447.66 132.30 455.68 133.20 457.00 C134.00 458.17 134.80 459.10 135.60 459.10 C136.13 459.10 136.67 457.93 137.20 457.00 C138.23 455.19 139.27 450.18 140.30 447.80 C141.23 445.65 142.17 442.50 143.10 442.50 C144.27 442.50 145.43 448.10 146.60 448.10 C147.80 448.10 149.00 442.50 150.20 442.50 C150.97 442.50 151.73 447.21 152.50 449.80 C153.17 452.05 153.83 455.68 154.50 457.00 C155.00 457.99 155.50 459.10 156.00 459.10 C158.90 459.10 161.80 459.10 164.70 459.10 C165.70 459.10 166.70 455.70 167.70 453.90 C168.40 452.64 169.10 450.00 169.80 450.00 C170.50 450.00 171.20 452.41 171.90 453.90 C172.60 455.39 173.30 459.10 174.00 459.10 C179.00 459.10 184.00 459.10 189.00 459.10" stroke="#ff00ff"/>
<path d="M235.60 459.10 C236.87 456.73 238.13 452.00 239.40 452.00 C240.33 452.00 241.27 452.60 242.20 452.90 C243.13 453.20 244.07 453.80 245.00 453.80 C245.93 453.80 246.87 451.60 247.80 450.10 C248.73 448.60 249.67 445.29 250.60 444.40 C251.57 443.48 252.53 442.60 253.50 442.60 C254.43 442.60 255.37 450.10 256.30 450.10 C257.23 450.10 258.17 448.83 259.10 448.20 C260.03 447.57 260.97 446.71 261.90 446.30 C262.83 445.89 263.77 445.40 264.70 445.40 C265.63 445.40 266.57 447.13 267.50 448.20 C268.43 449.27 269.37 452.00 270.30 452.00 C271.37 452.00 272.43 446.98 273.50 444.40 C274.63 441.66 275.77 436.00 276.90 436.00 C277.83 436.00 278.77 440.70 279.70 440.70 C280.97 440.70 282.23 438.98 283.50 437.90 C284.43 437.10 285.37 435.10 286.30 435.10 C287.23 435.10 288.17 436.97 289.10 437.90 C290.03 438.83 290.97 440.70 291.90 440.70 C292.83 440.70 293.77 439.20 294.70 438.80 C295.67 438.39 296.63 437.90 297.60 437.90 C298.53 437.90 299.47 440.06 300.40 440.70 C301.63 441.55 302.87 442.60 304.10 442.60 C305.37 442.60 306.63 442.23 307.90 441.60 C309.13 440.99 310.37 430.25 311.60 427.60 C312.87 424.87 314.13 421.90 315.40 421.90 C316.33 421.90 317.27 425.51 318.20 427.60 C319.43 430.36 320.67 436.90 321.90 436.90 C323.17 436.90 324.43 436.01 325.70 435.10 C326.63 434.43 327.57 432.55 328.50 431.30 C329.43 430.05 330.37 427.60 331.30 427.60 C332.23 427.60 333.17 432.71 334.10 435.10 C334.73 436.72 335.37 439.80 336.00 439.80 C336.93 439.80 337.87 430.40 338.80 427.60 C339.77 424.70 340.73 421.59 341.70 421.00 C342.63 420.43 343.57 420.57 344.50 420.00 C345.73 419.25 346.97 409.70 348.20 409.70 C349.13 409.70 350.07 411.02 351.00 412.50 C351.97 414.03 352.93 420.21 353.90 423.80 C355.13 428.38 356.37 436.29 357.60 436.90 C358.87 437.52 360.13 437.46 361.40 437.90 C362.63 438.33 363.87 438.97 365.10 439.80 C366.37 440.65 367.63 441.60 368.90 443.50 C369.50 444.40 370.10 448.20 370.70 448.20 C371.67 448.20 372.63 442.52 373.60 438.80 C374.40 435.72 375.20 430.17 376.00 427.60 C376.33 426.53 376.67 425.87 377.00 425.00" stroke="#ff00ff"/>
<path d="M56.00 485.00 C56.33 485.57 56.67 486.13 57.00 486.70 C58.40 489.10 59.80 491.99 61.20 494.00 C62.97 496.54 64.73 500.40 66.50 500.40 C68.13 500.40 69.77 491.90 71.40 491.90 C72.57 491.90 73.73 497.86 74.90 500.40 C76.33 503.52 77.77 505.29 79.20 508.80 C80.60 512.22 82.00 519.10 83.40 522.50 C84.67 525.58 85.93 529.90 87.20 529.90 C88.40 529.90 89.60 525.59 90.80 522.50 C91.83 519.84 92.87 514.13 93.90 512.00 C94.83 510.07 95.77 507.80 96.70 507.80 C97.53 507.80 98.37 511.43 99.20 513.00 C100.03 514.57 100.87 517.30 101.70 517.30 C102.63 517.30 103.57 510.43 104.50 505.70 C105.57 500.29 106.63 488.96 107.70 484.50 C108.73 480.18 109.77 475.00 110.80 475.00 C111.50 475.00 112.20 475.44 112.90 476.10 C113.60 476.76 114.30 483.89 115.00 486.70 C115.73 489.64 116.47 494.00 117.20 494.00 C117.90 494.00 118.60 488.55 119.30 484.50 C120.00 480.45 120.70 471.12 121.40 467.70 C122.10 464.28 122.80 460.30 123.50 460.30 C124.20 460.30 124.90 464.91 125.60 467.70 C126.50 471.29 127.40 478.28 128.30 480.30 C129.00 481.87 129.70 483.50 130.40 483.50 C131.13 483.50 131.87 477.70 132.60 474.00 C133.30 470.47 134.00 463.61 134.70 461.30 C135.00 460.31 135.30 459.10 135.60 459.10 C136.13 459.10 136.67 460.39 137.20 461.30 C138.10 462.83 139.00 465.58 139.90 467.70 C141.10 470.52 142.30 476.10 143.50 476.10 C144.57 476.10 145.63 469.03 146.70 467.70 C147.53 466.66 148.37 465.60 149.20 465.60 C150.13 465.60 151.07 476.10 152.00 476.10 C152.83 476.10 153.67 470.38 154.50 467.70 C155.43 464.70 156.37 459.10 157.30 459.10 C167.87 459.10 178.43 459.10 189.00 459.10" stroke="#ff00ff"/>
<path d="M235.10 459.10 C235.97 460.47 236.83 462.25 237.70 463.20 C238.53 464.11 239.37 465.30 240.20 465.30 C241.07 465.30 241.93 463.20 242.80 463.20 C243.67 463.20 244.53 464.59 245.40 465.30 C246.43 466.15 247.47 467.57 248.50 467.90 C249.33 468.16 250.17 468.40 251.00 468.40 C251.87 468.40 252.73 466.70 253.60 466.30 C254.63 465.82 255.67 465.30 256.70 465.30 C257.53 465.30 258.37 468.60 259.20 470.40 C260.40 472.99 261.60 478.70 262.80 478.70 C263.67 478.70 264.53 476.04 265.40 474.50 C266.27 472.96 267.13 470.43 268.00 469.40 C269.03 468.17 270.07 466.80 271.10 466.80 C271.77 466.80 272.43 467.54 273.10 468.40 C273.80 469.30 274.50 473.30 275.20 475.60 C276.07 478.45 276.93 483.80 277.80 483.80 C278.63 483.80 279.47 483.03 280.30 482.20 C281.33 481.17 282.37 476.11 283.40 474.50 C284.27 473.15 285.13 471.50 286.00 471.50 C286.87 471.50 287.73 473.88 288.60 475.60 C289.60 477.59 290.60 483.80 291.60 483.80 C292.63 483.80 293.67 480.69 294.70 478.70 C295.73 476.71 296.77 472.35 297.80 471.50 C298.50 470.92 299.20 470.40 299.90 470.40 C300.93 470.40 301.97 474.50 303.00 474.50 C304.00 474.50 305.00 474.50 306.00 474.50 C306.70 474.50 307.40 476.07 308.10 477.60 C308.77 479.05 309.43 483.49 310.10 485.80 C310.93 488.68 311.77 490.47 312.60 493.20 C313.53 496.26 314.47 503.50 315.40 503.50 C316.33 503.50 317.27 496.15 318.20 493.20 C319.47 489.19 320.73 484.65 322.00 482.80 C323.23 481.00 324.47 479.10 325.70 479.10 C326.63 479.10 327.57 485.37 328.50 488.50 C329.43 491.63 330.37 497.90 331.30 497.90 C332.23 497.90 333.17 490.99 334.10 487.50 C334.93 484.39 335.77 478.10 336.60 478.10 C337.67 478.10 338.73 486.24 339.80 489.40 C341.03 493.06 342.27 496.05 343.50 498.80 C344.43 500.88 345.37 504.40 346.30 504.40 C347.27 504.40 348.23 500.70 349.20 500.70 C350.23 500.70 351.27 506.30 352.30 506.30 C353.33 506.30 354.37 495.37 355.40 491.30 C356.43 487.23 357.47 482.31 358.50 481.00 C359.77 479.39 361.03 479.34 362.30 478.10 C363.23 477.18 364.17 475.30 365.10 474.40 C366.37 473.18 367.63 471.60 368.90 471.60 C370.13 471.60 371.37 473.19 372.60 474.40 C373.73 475.51 374.87 477.23 376.00 479.10 C376.33 479.65 376.67 480.37 377.00 481.00" stroke="#ff00ff"/>
<path d="M56.00 460.60 C72.33 460.60 88.67 460.60 105.00 460.60 C108.33 460.60 111.67 460.07 115.00 459.80" stroke="#00ff00"/>
<path d="M280.00 458.50 C281.00 457.83 282.00 457.35 283.00 456.50 C283.80 455.82 284.60 455.01 285.40 453.80 C286.83 451.63 288.27 442.60 289.70 442.60 C291.07 442.60 292.43 450.49 293.80 452.90 C294.73 454.54 295.67 456.80 296.60 456.80 C297.73 456.80 298.87 456.80 300.00 456.80 C302.00 456.80 304.00 457.87 306.00 458.40" stroke="#00ff00"/>
<path d="M300.00 459.80 C301.37 460.47 302.73 460.74 304.10 461.80 C305.37 462.78 306.63 466.49 307.90 468.80 C309.13 471.05 310.37 475.50 311.60 475.50 C312.87 475.50 314.13 470.64 315.40 468.50 C316.33 466.92 317.27 464.48 318.20 464.10 C319.03 463.76 319.87 463.50 320.70 463.50 C321.73 463.50 322.77 465.60 323.80 465.60 C324.87 465.60 325.93 463.80 327.00 463.80 C328.33 463.80 329.67 464.00 331.00 464.00 C332.00 464.00 333.00 460.30 334.00 460.30 C336.00 460.30 338.00 460.49 340.00 460.50 C352.67 460.58 365.33 460.57 378.00 460.60" stroke="#00ff00"/>
<path d="M164.70 459.10 C165.47 456.73 166.23 454.08 167.00 452.00 C167.93 449.47 168.87 445.30 169.80 445.30 C170.73 445.30 171.67 449.42 172.60 452.00 C173.33 454.03 174.07 456.73 174.80 459.10" stroke="#00ff00"/>
<path d="M56.00 458.00 C74.00 458.03 92.00 458.02 110.00 458.10 C115.00 458.12 120.00 459.10 125.00 459.10 C138.23 459.10 151.47 459.10 164.70 459.10 C165.37 459.10 166.03 452.71 166.70 450.00 C167.73 445.79 168.77 438.75 169.80 438.75 C170.80 438.75 171.80 445.86 172.80 450.00 C173.47 452.76 174.13 459.10 174.80 459.10 C207.53 459.10 240.27 459.10 273.00 459.10 C274.93 459.10 276.87 458.55 278.80 457.80 C280.03 457.32 281.27 455.83 282.50 453.80 C283.77 451.72 285.03 443.05 286.30 440.70 C287.53 438.42 288.77 436.00 290.00 436.00 C291.27 436.00 292.53 440.99 293.80 444.40 C294.73 446.91 295.67 452.47 296.60 453.80 C298.17 456.04 299.73 457.45 301.30 457.80 C302.87 458.15 304.43 458.40 306.00 458.40 C330.00 458.40 354.00 458.33 378.00 458.30" stroke="#06068a"/>
<path d="M56.00 459.60 C77.33 459.50 98.67 459.30 120.00 459.30 C171.67 459.30 223.33 459.30 275.00 459.30 C279.53 459.30 284.07 460.08 288.60 460.50 C290.30 460.66 292.00 461.00 293.70 461.00 C295.07 461.00 296.43 460.10 297.80 460.10 C298.87 460.10 299.93 460.24 301.00 460.40 C302.33 460.60 303.67 461.16 305.00 462.20 C305.70 462.75 306.40 464.61 307.10 466.30 C307.90 468.23 308.70 471.59 309.50 474.00 C310.20 476.11 310.90 480.00 311.60 480.00 C312.23 480.00 312.87 477.53 313.50 476.00 C314.13 474.47 314.77 471.90 315.40 470.60 C316.27 468.82 317.13 467.14 318.00 466.50 C318.67 466.00 319.33 465.50 320.00 465.50 C321.27 465.50 322.53 467.10 323.80 467.10 C325.03 467.10 326.27 465.92 327.50 465.80 C328.67 465.69 329.83 465.73 331.00 465.60 C332.33 465.46 333.67 460.00 335.00 460.00 C336.67 460.00 338.33 460.42 340.00 460.80 C341.10 461.05 342.20 462.00 343.30 462.00 C345.53 462.00 347.77 460.80 350.00 460.80 C352.33 460.80 354.67 460.91 357.00 461.00 C359.67 461.10 362.33 461.50 365.00 461.50 C367.33 461.50 369.67 460.80 372.00 460.80 C374.00 460.80 376.00 461.07 378.00 461.20" stroke="#06068a"/>
</g>
<line x1="184.6" y1="330.8" x2="184.6" y2="587.9" stroke="#000" stroke-width="1.4"/>
<line x1="56.80" y1="331.00" x2="376.00" y2="331.00" stroke="#000" stroke-width="1.00"/>
<line x1="56.80" y1="587.90" x2="376.00" y2="587.90" stroke="#1a1a1a" stroke-width="1.30"/>
<line x1="57.30" y1="330.50" x2="57.30" y2="588.50" stroke="#111" stroke-width="1.35"/>
<line x1="375.50" y1="330.50" x2="375.50" y2="588.50" stroke="#111" stroke-width="1.20"/>
<path d="M57.4 587.9v-5M121.0 587.9v-5M184.6 587.9v-5M248.2 587.9v-5M311.8 587.9v-5M375.4 587.9v-5M89.2 587.9v-3M152.8 587.9v-3M216.4 587.9v-3M280.0 587.9v-3M343.6 587.9v-3M57.4 330.8h5M57.4 395.1h5M57.4 459.4h5M57.4 523.6h5M57.4 587.9h5M57.4 362.9h3M57.4 427.2h3M57.4 491.5h3M57.4 555.8h3" stroke="#111" stroke-width="1.3" fill="none"/>
<clipPath id="clipd"><rect x="453.3" y="330.8" width="318.2" height="257.1"/></clipPath>
<g clip-path="url(#clipd)" fill="none" stroke-width="2.10" stroke-linejoin="round" stroke-linecap="round">
<path d="M450.00 300.00 C468.73 300.00 487.47 300.00 506.20 300.00 C506.40 300.00 506.60 325.71 506.80 330.00 C507.20 338.57 507.60 340.46 508.00 345.00 C508.50 350.68 509.00 360.50 509.50 360.50 C510.00 360.50 510.50 351.51 511.00 345.00 C511.30 341.10 511.60 337.76 511.90 330.00 C512.10 324.83 512.30 300.00 512.50 300.00 C513.33 300.00 514.17 300.00 515.00 300.00 C515.20 300.00 515.40 323.59 515.60 330.00 C516.07 344.95 516.53 352.88 517.00 360.50 C517.47 368.12 517.93 374.41 518.40 378.80 C519.27 386.95 520.13 390.25 521.00 397.00 C521.70 402.46 522.40 406.34 523.10 415.30 C523.43 419.57 523.77 431.71 524.10 435.60 C524.43 439.49 524.77 442.95 525.10 443.80 C526.13 446.43 527.17 446.55 528.20 447.80 C529.13 448.93 530.07 450.17 531.00 451.00 C532.17 452.03 533.33 453.50 534.50 453.50 C535.67 453.50 536.83 452.29 538.00 451.50 C539.47 450.51 540.93 447.80 542.40 447.80 C543.43 447.80 544.47 450.38 545.50 451.50 C546.50 452.59 547.50 453.72 548.50 454.50 C549.83 455.54 551.17 457.00 552.50 457.00 C553.50 457.00 554.50 456.34 555.50 456.20 C556.53 456.05 557.57 455.90 558.60 455.90 C559.73 455.90 560.87 457.21 562.00 457.50 C563.33 457.84 564.67 457.95 566.00 458.20 C567.33 458.45 568.67 459.00 570.00 459.00 C574.00 459.00 578.00 459.00 582.00 459.00" stroke="#ff0000"/>
<path d="M648.00 459.00 C648.87 458.83 649.73 458.78 650.60 458.50 C651.87 458.10 653.13 454.68 654.40 453.80 C655.63 452.94 656.87 452.55 658.10 452.00 C659.67 451.31 661.23 450.80 662.80 450.10 C664.07 449.53 665.33 448.20 666.60 448.20 C667.83 448.20 669.07 451.00 670.30 451.00 C671.87 451.00 673.43 448.04 675.00 446.30 C676.27 444.89 677.53 441.60 678.80 441.60 C680.03 441.60 681.27 444.75 682.50 446.30 C683.77 447.89 685.03 451.00 686.30 451.00 C687.53 451.00 688.77 446.50 690.00 444.50 C691.27 442.45 692.53 438.80 693.80 438.80 C695.03 438.80 696.27 440.08 697.50 440.70 C698.77 441.34 700.03 442.60 701.30 442.60 C702.70 442.60 704.10 440.47 705.50 438.80 C706.93 437.09 708.37 431.30 709.80 431.30 C711.03 431.30 712.27 436.00 713.50 436.00 C714.50 436.00 715.50 433.14 716.50 432.00 C717.37 431.01 718.23 429.40 719.10 429.40 C720.23 429.40 721.37 434.48 722.50 436.90 C723.57 439.17 724.63 443.50 725.70 443.50 C726.57 443.50 727.43 435.10 728.30 431.30 C729.13 427.65 729.97 421.00 730.80 421.00 C731.53 421.00 732.27 429.30 733.00 431.30 C734.00 434.03 735.00 435.91 736.00 436.90 C736.93 437.82 737.87 438.18 738.80 438.80 C739.77 439.44 740.73 440.70 741.70 440.70 C742.30 440.70 742.90 424.50 743.50 420.00 C744.43 412.99 745.37 405.00 746.30 405.00 C747.27 405.00 748.23 418.20 749.20 418.20 C750.13 418.20 751.07 411.71 752.00 410.70 C752.93 409.69 753.87 409.75 754.80 408.80 C755.73 407.85 756.67 405.87 757.60 403.20 C758.53 400.53 759.47 391.63 760.40 389.10 C761.23 386.84 762.07 384.40 762.90 384.40 C763.63 384.40 764.37 388.28 765.10 391.00 C766.03 394.47 766.97 400.83 767.90 405.00 C768.83 409.17 769.77 414.18 770.70 416.30 C771.47 418.04 772.23 418.77 773.00 420.00" stroke="#ff0000"/>
<path d="M450.00 620.00 C469.10 620.00 488.20 620.00 507.30 620.00 C507.37 620.00 507.43 592.68 507.50 590.00 C507.97 571.27 508.43 570.85 508.90 564.70 C509.27 559.87 509.63 553.10 510.00 553.10 C510.57 553.10 511.13 559.20 511.70 566.90 C511.97 570.52 512.23 575.06 512.50 590.00 C512.57 593.73 512.63 620.00 512.70 620.00 C513.80 620.00 514.90 620.00 516.00 620.00 C516.10 620.00 516.20 594.75 516.30 590.00 C516.67 572.58 517.03 567.38 517.40 560.50 C517.90 551.12 518.40 546.21 518.90 539.40 C519.43 532.14 519.97 525.03 520.50 518.30 C521.20 509.47 521.90 499.58 522.60 493.00 C523.33 486.11 524.07 477.96 524.80 476.10 C525.50 474.33 526.20 473.29 526.90 472.90 C527.93 472.33 528.97 472.47 530.00 471.90 C531.07 471.31 532.13 467.52 533.20 465.60 C534.27 463.68 535.33 460.30 536.40 460.30 C537.43 460.30 538.47 460.94 539.50 461.50 C540.57 462.08 541.63 464.50 542.70 464.50 C543.97 464.50 545.23 460.91 546.50 460.50 C548.33 459.91 550.17 459.57 552.00 459.50 C562.00 459.12 572.00 459.17 582.00 459.00" stroke="#ff0000"/>
<path d="M644.00 459.00 C645.60 461.33 647.20 466.00 648.80 466.00 C650.37 466.00 651.93 465.00 653.50 465.00 C655.03 465.00 656.57 466.79 658.10 468.80 C659.37 470.46 660.63 480.00 661.90 480.00 C663.17 480.00 664.43 468.46 665.70 466.00 C666.63 464.19 667.57 462.20 668.50 462.20 C669.43 462.20 670.37 466.09 671.30 468.00 C672.53 470.53 673.77 474.92 675.00 475.50 C676.27 476.09 677.53 476.50 678.80 476.50 C680.03 476.50 681.27 470.50 682.50 470.50 C683.77 470.50 685.03 477.20 686.30 477.20 C687.53 477.20 688.77 475.50 690.00 475.50 C691.57 475.50 693.13 483.80 694.70 483.80 C696.60 483.80 698.50 472.50 700.40 472.50 C701.97 472.50 703.53 482.80 705.10 482.80 C706.33 482.80 707.57 474.40 708.80 474.40 C710.07 474.40 711.33 480.00 712.60 480.00 C714.17 480.00 715.73 473.50 717.30 473.50 C718.53 473.50 719.77 478.00 721.00 478.00 C722.27 478.00 723.53 472.50 724.80 472.50 C725.73 472.50 726.67 476.67 727.60 480.00 C728.83 484.40 730.07 500.70 731.30 500.70 C732.23 500.70 733.17 491.02 734.10 489.40 C734.93 487.95 735.77 486.60 736.60 486.60 C737.67 486.60 738.73 493.55 739.80 496.90 C741.03 500.77 742.27 506.38 743.50 508.20 C744.43 509.57 745.37 511.00 746.30 511.00 C747.07 511.00 747.83 504.70 748.60 502.50 C749.40 500.21 750.20 496.90 751.00 496.90 C751.97 496.90 752.93 506.28 753.90 510.00 C754.83 513.59 755.77 519.40 756.70 519.40 C757.50 519.40 758.30 518.50 759.10 518.50 C759.87 518.50 760.63 525.75 761.40 528.80 C762.13 531.72 762.87 536.70 763.60 536.70 C764.40 536.70 765.20 528.85 766.00 525.10 C766.97 520.56 767.93 516.56 768.90 511.90 C769.63 508.37 770.37 503.45 771.10 500.70 C771.73 498.32 772.37 496.90 773.00 495.00" stroke="#ff0000"/>
<path d="M452.00 428.00 C452.33 428.50 452.67 429.04 453.00 429.50 C454.37 431.39 455.73 432.24 457.10 434.60 C458.43 436.90 459.77 442.77 461.10 445.80 C462.33 448.60 463.57 452.90 464.80 452.90 C466.30 452.90 467.80 446.40 469.30 443.80 C470.63 441.49 471.97 437.70 473.30 437.70 C474.33 437.70 475.37 438.70 476.40 438.70 C477.73 438.70 479.07 429.50 480.40 429.50 C481.43 429.50 482.47 431.94 483.50 433.60 C484.50 435.20 485.50 439.70 486.50 439.70 C487.87 439.70 489.23 431.02 490.60 427.50 C492.17 423.47 493.73 416.90 495.30 416.90 C496.23 416.90 497.17 423.94 498.10 425.50 C498.97 426.95 499.83 428.50 500.70 428.50 C502.07 428.50 503.43 425.50 504.80 425.50 C506.17 425.50 507.53 430.86 508.90 433.60 C509.90 435.61 510.90 439.70 511.90 439.70 C512.57 439.70 513.23 437.70 513.90 437.70 C515.27 437.70 516.63 443.48 518.00 445.80 C519.37 448.12 520.73 451.90 522.10 451.90 C523.43 451.90 524.77 448.73 526.10 446.80 C526.93 445.59 527.77 442.70 528.60 442.70 C529.47 442.70 530.33 445.81 531.20 447.50 C532.23 449.51 533.27 453.90 534.30 453.90 C535.63 453.90 536.97 451.57 538.30 450.50 C539.67 449.41 541.03 447.40 542.40 447.40 C543.73 447.40 545.07 449.20 546.40 450.50 C547.77 451.83 549.13 455.90 550.50 455.90 C551.87 455.90 553.23 453.69 554.60 452.90 C555.27 452.51 555.93 451.90 556.60 451.90 C557.60 451.90 558.60 455.90 559.60 455.90 C560.63 455.90 561.67 455.45 562.70 454.90 C563.70 454.37 564.70 450.30 565.70 450.30 C566.73 450.30 567.77 455.57 568.80 456.90 C569.53 457.85 570.27 459.00 571.00 459.00 C574.67 459.00 578.33 459.00 582.00 459.00" stroke="#0000ff"/>
<path d="M648.00 459.00 C648.87 458.83 649.73 458.80 650.60 458.50 C651.57 458.17 652.53 454.80 653.50 452.90 C654.43 451.07 655.37 447.30 656.30 447.30 C657.53 447.30 658.77 452.00 660.00 452.00 C661.27 452.00 662.53 449.04 663.80 447.30 C665.03 445.61 666.27 441.60 667.50 441.60 C668.77 441.60 670.03 448.20 671.30 448.20 C672.87 448.20 674.43 446.52 676.00 445.40 C677.07 444.63 678.13 442.60 679.20 442.60 C680.30 442.60 681.40 447.30 682.50 447.30 C683.47 447.30 684.43 445.40 685.40 445.40 C686.33 445.40 687.27 448.20 688.20 448.20 C689.43 448.20 690.67 441.22 691.90 440.70 C693.17 440.16 694.43 440.26 695.70 439.80 C696.93 439.35 698.17 436.90 699.40 436.90 C700.67 436.90 701.93 442.60 703.20 442.60 C704.43 442.60 705.67 441.75 706.90 440.70 C708.17 439.63 709.43 431.30 710.70 431.30 C711.97 431.30 713.23 437.90 714.50 437.90 C715.73 437.90 716.97 435.10 718.20 435.10 C719.47 435.10 720.73 437.95 722.00 438.80 C723.23 439.63 724.47 440.70 725.70 440.70 C726.63 440.70 727.57 437.72 728.50 435.10 C729.43 432.48 730.37 421.90 731.30 421.90 C732.23 421.90 733.17 435.10 734.10 435.10 C735.07 435.10 736.03 432.20 737.00 432.20 C738.23 432.20 739.47 440.70 740.70 440.70 C741.63 440.70 742.57 431.46 743.50 427.60 C744.43 423.74 745.37 417.20 746.30 417.20 C747.27 417.20 748.23 425.96 749.20 429.40 C750.43 433.79 751.67 440.70 752.90 440.70 C754.17 440.70 755.43 436.42 756.70 433.20 C757.93 430.06 759.17 421.74 760.40 420.00 C761.03 419.11 761.67 418.20 762.30 418.20 C763.53 418.20 764.77 418.80 766.00 419.10 C767.27 419.40 768.53 419.56 769.80 420.00 C770.87 420.37 771.93 421.33 773.00 422.00" stroke="#0000ff"/>
<path d="M452.00 483.00 C452.33 482.80 452.67 482.61 453.00 482.40 C454.07 481.74 455.13 481.31 456.20 480.30 C457.23 479.32 458.27 477.02 459.30 475.00 C460.37 472.92 461.43 468.92 462.50 467.70 C463.40 466.67 464.30 465.60 465.20 465.60 C466.40 465.60 467.60 469.69 468.80 471.90 C470.23 474.54 471.67 478.89 473.10 480.30 C474.13 481.31 475.17 481.45 476.20 482.40 C477.60 483.69 479.00 488.80 480.40 488.80 C481.47 488.80 482.53 484.83 483.60 483.50 C484.67 482.17 485.73 480.30 486.80 480.30 C487.83 480.30 488.87 482.65 489.90 484.50 C490.97 486.41 492.03 490.36 493.10 493.00 C494.17 495.64 495.23 500.40 496.30 500.40 C497.33 500.40 498.37 495.37 499.40 494.00 C500.47 492.59 501.53 490.90 502.60 490.90 C503.67 490.90 504.73 493.00 505.80 493.00 C506.83 493.00 507.87 486.87 508.90 484.50 C509.97 482.05 511.03 478.20 512.10 478.20 C513.17 478.20 514.23 479.30 515.30 479.30 C516.33 479.30 517.37 474.13 518.40 471.90 C519.47 469.60 520.53 465.60 521.60 465.60 C522.67 465.60 523.73 468.23 524.80 469.80 C525.83 471.32 526.87 475.00 527.90 475.00 C528.97 475.00 530.03 469.97 531.10 467.70 C532.17 465.43 533.23 462.26 534.30 461.30 C535.33 460.37 536.37 459.50 537.40 459.50 C538.47 459.50 539.53 465.10 540.60 467.70 C541.50 469.90 542.40 474.00 543.30 474.00 C544.23 474.00 545.17 469.78 546.10 467.70 C547.07 465.55 548.03 461.30 549.00 461.30 C550.77 461.30 552.53 461.70 554.30 462.30 C555.37 462.66 556.43 465.60 557.50 465.60 C558.57 465.60 559.63 462.30 560.70 462.30 C562.10 462.30 563.50 467.70 564.90 467.70 C565.93 467.70 566.97 464.00 568.00 462.30 C568.70 461.15 569.40 459.00 570.10 459.00 C574.07 459.00 578.03 459.00 582.00 459.00" stroke="#0000ff"/>
<path d="M644.00 459.00 C644.33 459.13 644.67 459.20 645.00 459.40 C646.27 460.16 647.53 468.80 648.80 468.80 C650.20 468.80 651.60 467.05 653.00 467.00 C654.70 466.93 656.40 466.90 658.10 466.90 C659.50 466.90 660.90 479.10 662.30 479.10 C663.43 479.10 664.57 471.79 665.70 468.80 C666.63 466.34 667.57 462.20 668.50 462.20 C669.73 462.20 670.97 468.88 672.20 470.60 C673.47 472.36 674.73 473.91 676.00 474.40 C677.23 474.88 678.47 475.30 679.70 475.30 C680.97 475.30 682.23 470.60 683.50 470.60 C684.73 470.60 685.97 474.40 687.20 474.40 C688.13 474.40 689.07 471.60 690.00 471.60 C691.57 471.60 693.13 481.90 694.70 481.90 C696.27 481.90 697.83 472.50 699.40 472.50 C701.30 472.50 703.20 480.00 705.10 480.00 C706.33 480.00 707.57 474.40 708.80 474.40 C710.07 474.40 711.33 481.00 712.60 481.00 C714.17 481.00 715.73 473.50 717.30 473.50 C718.53 473.50 719.77 475.50 721.00 475.50 C722.27 475.50 723.53 471.60 724.80 471.60 C725.73 471.60 726.67 477.95 727.60 481.90 C728.83 487.12 730.07 500.70 731.30 500.70 C732.23 500.70 733.17 491.03 734.10 488.50 C735.07 485.88 736.03 482.80 737.00 482.80 C738.23 482.80 739.47 485.59 740.70 486.60 C742.57 488.12 744.43 490.30 746.30 490.30 C747.87 490.30 749.43 480.00 751.00 480.00 C752.27 480.00 753.53 485.27 754.80 486.60 C756.03 487.90 757.27 487.88 758.50 489.40 C759.47 490.59 760.43 495.03 761.40 497.90 C762.33 500.67 763.27 506.30 764.20 506.30 C765.47 506.30 766.73 503.33 768.00 500.70 C769.03 498.56 770.07 493.05 771.10 490.30 C771.73 488.61 772.37 487.43 773.00 486.00" stroke="#0000ff"/>
<path d="M452.00 423.00 C452.33 423.50 452.67 423.83 453.00 424.50 C453.67 425.85 454.33 431.18 455.00 431.60 C456.03 432.25 457.07 432.01 458.10 432.60 C459.10 433.17 460.10 437.22 461.10 439.70 C462.13 442.27 463.17 447.80 464.20 447.80 C465.53 447.80 466.87 440.68 468.20 437.70 C469.57 434.65 470.93 430.57 472.30 429.50 C473.67 428.43 475.03 428.67 476.40 427.50 C477.40 426.64 478.40 419.40 479.40 419.40 C480.43 419.40 481.47 425.50 482.50 425.50 C483.83 425.50 485.17 422.09 486.50 419.40 C487.87 416.65 489.23 411.48 490.60 407.20 C491.93 403.03 493.27 394.00 494.60 394.00 C495.77 394.00 496.93 394.60 498.10 394.60 C499.33 394.60 500.57 390.90 501.80 390.90 C502.80 390.90 503.80 394.14 504.80 397.00 C505.67 399.48 506.53 405.88 507.40 409.20 C508.23 412.39 509.07 417.30 509.90 417.30 C510.57 417.30 511.23 410.74 511.90 407.20 C512.57 403.66 513.23 396.00 513.90 396.00 C514.73 396.00 515.57 401.35 516.40 405.20 C517.27 409.20 518.13 416.80 519.00 421.40 C520.03 426.88 521.07 432.07 522.10 435.60 C523.10 439.02 524.10 443.80 525.10 443.80 C525.77 443.80 526.43 437.87 527.10 435.60 C527.80 433.22 528.50 429.50 529.20 429.50 C529.87 429.50 530.53 432.97 531.20 435.60 C531.87 438.23 532.53 445.04 533.20 446.80 C534.23 449.54 535.27 451.90 536.30 451.90 C537.30 451.90 538.30 447.62 539.30 445.80 C540.33 443.92 541.37 440.70 542.40 440.70 C543.40 440.70 544.40 443.98 545.40 445.80 C546.43 447.68 547.47 450.51 548.50 451.90 C549.83 453.69 551.17 455.90 552.50 455.90 C553.20 455.90 553.90 450.18 554.60 447.80 C555.27 445.53 555.93 441.70 556.60 441.70 C557.27 441.70 557.93 447.77 558.60 449.80 C559.30 451.93 560.00 454.90 560.70 454.90 C561.70 454.90 562.70 448.22 563.70 445.80 C564.37 444.19 565.03 441.70 565.70 441.70 C566.37 441.70 567.03 447.32 567.70 449.80 C568.40 452.40 569.10 455.48 569.80 457.00 C570.20 457.87 570.60 459.00 571.00 459.00 C574.67 459.00 578.33 459.00 582.00 459.00" stroke="#ff00ff"/>
<path d="M648.00 459.00 C648.87 458.83 649.73 458.78 650.60 458.50 C651.87 458.10 653.13 454.68 654.40 453.80 C655.63 452.94 656.87 452.55 658.10 452.00 C659.67 451.31 661.23 450.80 662.80 450.10 C664.07 449.53 665.33 448.20 666.60 448.20 C667.83 448.20 669.07 451.00 670.30 451.00 C671.87 451.00 673.43 448.04 675.00 446.30 C676.27 444.89 677.53 441.60 678.80 441.60 C680.03 441.60 681.27 445.41 682.50 446.30 C683.77 447.21 685.03 448.20 686.30 448.20 C687.53 448.20 688.77 443.35 690.00 440.70 C690.97 438.62 691.93 434.10 692.90 434.10 C693.83 434.10 694.77 438.05 695.70 438.80 C696.93 439.79 698.17 440.08 699.40 440.70 C700.67 441.34 701.93 442.60 703.20 442.60 C704.43 442.60 705.67 439.01 706.90 436.90 C708.03 434.96 709.17 430.40 710.30 430.40 C711.37 430.40 712.43 438.80 713.50 438.80 C714.77 438.80 716.03 436.90 717.30 436.90 C718.20 436.90 719.10 438.06 720.00 438.80 C721.27 439.84 722.53 442.60 723.80 442.60 C725.07 442.60 726.33 435.40 727.60 431.30 C728.67 427.85 729.73 420.00 730.80 420.00 C731.90 420.00 733.00 430.80 734.10 433.20 C735.37 435.96 736.63 437.10 737.90 438.80 C739.17 440.50 740.43 443.50 741.70 443.50 C742.63 443.50 743.57 436.16 744.50 431.30 C745.10 428.17 745.70 420.00 746.30 420.00 C747.07 420.00 747.83 423.48 748.60 425.70 C749.40 428.02 750.20 433.58 751.00 434.10 C751.97 434.72 752.93 435.10 753.90 435.10 C755.13 435.10 756.37 425.96 757.60 421.90 C758.87 417.73 760.13 410.30 761.40 410.30 C762.63 410.30 763.87 412.84 765.10 414.40 C766.37 416.00 767.63 417.42 768.90 420.00 C769.63 421.49 770.37 424.97 771.10 426.60 C771.73 428.01 772.37 428.87 773.00 430.00" stroke="#ff00ff"/>
<path d="M452.00 495.00 C452.33 494.33 452.67 493.77 453.00 493.00 C454.07 490.53 455.13 484.67 456.20 483.50 C457.23 482.36 458.27 482.48 459.30 481.40 C460.37 480.29 461.43 475.93 462.50 474.00 C463.20 472.73 463.90 470.80 464.60 470.80 C465.67 470.80 466.73 473.80 467.80 476.10 C468.83 478.33 469.87 484.04 470.90 485.60 C471.97 487.21 473.03 487.59 474.10 488.80 C475.17 490.01 476.23 491.19 477.30 493.00 C478.20 494.52 479.10 499.30 480.00 499.30 C481.00 499.30 482.00 497.31 483.00 496.20 C483.90 495.21 484.80 493.00 485.70 493.00 C486.77 493.00 487.83 495.30 488.90 497.20 C489.93 499.04 490.97 502.36 492.00 505.70 C493.07 509.14 494.13 513.79 495.20 518.30 C495.90 521.26 496.60 527.80 497.30 527.80 C498.37 527.80 499.43 527.80 500.50 527.80 C501.40 527.80 502.30 529.90 503.20 529.90 C504.07 529.90 504.93 524.31 505.80 520.40 C506.63 516.64 507.47 509.47 508.30 505.70 C508.87 503.13 509.43 499.30 510.00 499.30 C510.70 499.30 511.40 506.23 512.10 509.90 C512.93 514.27 513.77 523.60 514.60 523.60 C515.53 523.60 516.47 513.51 517.40 507.80 C518.30 502.30 519.20 494.71 520.10 489.80 C520.93 485.25 521.77 480.03 522.60 478.20 C523.33 476.59 524.07 475.00 524.80 475.00 C525.50 475.00 526.20 476.56 526.90 478.20 C527.73 480.16 528.57 491.90 529.40 491.90 C530.30 491.90 531.20 482.56 532.10 478.20 C533.17 473.03 534.23 465.70 535.30 463.40 C536.00 461.89 536.70 460.30 537.40 460.30 C538.27 460.30 539.13 466.25 540.00 469.80 C540.90 473.49 541.80 482.40 542.70 482.40 C543.77 482.40 544.83 475.47 545.90 471.90 C546.93 468.44 547.97 461.89 549.00 461.30 C549.83 460.83 550.67 460.50 551.50 460.50 C552.43 460.50 553.37 465.28 554.30 467.70 C555.37 470.47 556.43 476.10 557.50 476.10 C558.20 476.10 558.90 469.24 559.60 467.70 C560.30 466.16 561.00 464.50 561.70 464.50 C562.77 464.50 563.83 476.10 564.90 476.10 C565.93 476.10 566.97 468.96 568.00 465.60 C568.70 463.32 569.40 459.00 570.10 459.00 C574.07 459.00 578.03 459.00 582.00 459.00" stroke="#ff00ff"/>
<path d="M644.00 459.00 C644.33 459.13 644.67 459.22 645.00 459.40 C646.27 460.10 647.53 464.10 648.80 464.10 C650.37 464.10 651.93 463.10 653.50 463.10 C655.03 463.10 656.57 463.48 658.10 464.10 C659.37 464.61 660.63 472.50 661.90 472.50 C663.17 472.50 664.43 466.99 665.70 465.00 C666.63 463.54 667.57 461.30 668.50 461.30 C669.43 461.30 670.37 465.91 671.30 467.80 C672.53 470.30 673.77 474.40 675.00 474.40 C676.27 474.40 677.53 474.40 678.80 474.40 C680.03 474.40 681.27 469.70 682.50 469.70 C683.77 469.70 685.03 476.30 686.30 476.30 C687.53 476.30 688.77 474.40 690.00 474.40 C691.57 474.40 693.13 483.80 694.70 483.80 C695.63 483.80 696.57 478.99 697.50 477.20 C698.47 475.34 699.43 472.50 700.40 472.50 C701.97 472.50 703.53 482.80 705.10 482.80 C706.33 482.80 707.57 474.40 708.80 474.40 C710.07 474.40 711.33 480.00 712.60 480.00 C714.17 480.00 715.73 473.50 717.30 473.50 C718.53 473.50 719.77 477.20 721.00 477.20 C722.27 477.20 723.53 471.60 724.80 471.60 C725.73 471.60 726.67 476.40 727.60 480.00 C728.83 484.75 730.07 500.70 731.30 500.70 C732.23 500.70 733.17 492.55 734.10 489.40 C735.07 486.14 736.03 481.00 737.00 481.00 C738.23 481.00 739.47 484.31 740.70 485.70 C742.57 487.81 744.43 491.30 746.30 491.30 C747.57 491.30 748.83 481.90 750.10 481.90 C751.37 481.90 752.63 488.92 753.90 491.30 C755.13 493.61 756.37 494.68 757.60 496.90 C758.73 498.94 759.87 502.16 761.00 504.40 C761.87 506.11 762.73 509.10 763.60 509.10 C764.73 509.10 765.87 503.54 767.00 500.70 C768.37 497.28 769.73 493.55 771.10 490.30 C771.73 488.80 772.37 487.43 773.00 486.00" stroke="#ff00ff"/>
<path d="M452.00 455.40 C454.00 455.47 456.00 455.48 458.00 455.60 C459.77 455.70 461.53 456.70 463.30 456.70 C464.87 456.70 466.43 456.34 468.00 456.00 C469.33 455.71 470.67 455.10 472.00 454.50 C473.37 453.89 474.73 452.20 476.10 452.20 C477.40 452.20 478.70 454.28 480.00 455.00 C481.27 455.70 482.53 456.68 483.80 456.70 C489.20 456.78 494.60 456.75 500.00 456.80 C505.00 456.85 510.00 457.02 515.00 457.20 C520.00 457.38 525.00 458.00 530.00 458.00 C532.10 458.00 534.20 457.71 536.30 457.00 C537.30 456.66 538.30 449.53 539.30 447.00 C540.33 444.39 541.37 440.70 542.40 440.70 C543.40 440.70 544.40 443.79 545.40 446.00 C546.77 449.02 548.13 458.28 549.50 458.50 C550.67 458.69 551.83 458.70 553.00 458.80" stroke="#00ff00"/>
<path d="M452.00 467.60 C454.03 468.03 456.07 468.90 458.10 468.90 C459.40 468.90 460.70 466.86 462.00 465.70 C463.30 464.54 464.60 462.23 465.90 461.90 C467.27 461.55 468.63 461.30 470.00 461.30 C472.00 461.30 474.00 461.58 476.00 461.80 C477.33 461.95 478.67 462.09 480.00 462.40 C481.27 462.70 482.53 463.32 483.80 464.40 C485.10 465.51 486.40 472.63 487.70 473.40 C488.97 474.15 490.23 474.12 491.50 474.70 C493.23 475.50 494.97 478.60 496.70 478.60 C498.00 478.60 499.30 474.48 500.60 472.10 C501.87 469.78 503.13 465.88 504.40 464.40 C505.70 462.88 507.00 461.43 508.30 461.20 C510.53 460.81 512.77 460.68 515.00 460.60 C520.00 460.42 525.00 460.45 530.00 460.30 C533.33 460.20 536.67 459.97 540.00 459.80" stroke="#00ff00"/>
<path d="M452.00 459.10 C480.33 459.10 508.67 459.10 537.00 459.10 C537.83 459.10 538.67 455.85 539.50 455.00 C540.47 454.02 541.43 452.90 542.40 452.90 C543.37 452.90 544.33 454.05 545.30 455.00 C546.20 455.89 547.10 459.10 548.00 459.10 C623.67 459.20 699.33 459.17 775.00 459.20" stroke="#06068a"/>
<path d="M452.00 459.40 C460.67 459.47 469.33 459.45 478.00 459.60 C480.33 459.64 482.67 460.64 485.00 460.80 C488.33 461.02 491.67 461.20 495.00 461.20 C498.33 461.20 501.67 460.90 505.00 460.60 C507.33 460.39 509.67 459.40 512.00 459.40 C599.67 459.40 687.33 459.40 775.00 459.40" stroke="#06068a"/>
</g>
<line x1="580.6" y1="330.8" x2="580.6" y2="587.9" stroke="#000" stroke-width="1.4"/>
<line x1="452.70" y1="331.00" x2="772.10" y2="331.00" stroke="#000" stroke-width="1.00"/>
<line x1="452.70" y1="587.90" x2="772.10" y2="587.90" stroke="#1a1a1a" stroke-width="1.30"/>
<line x1="453.20" y1="330.50" x2="453.20" y2="588.50" stroke="#111" stroke-width="1.35"/>
<line x1="771.60" y1="330.50" x2="771.60" y2="588.50" stroke="#111" stroke-width="1.20"/>
<path d="M453.3 587.9v-5M516.9 587.9v-5M580.6 587.9v-5M644.2 587.9v-5M707.9 587.9v-5M771.5 587.9v-5M485.1 587.9v-3M548.8 587.9v-3M612.4 587.9v-3M676.0 587.9v-3M739.7 587.9v-3M453.3 330.8h5M453.3 395.1h5M453.3 459.4h5M453.3 523.6h5M453.3 587.9h5M453.3 362.9h3M453.3 427.2h3M453.3 491.5h3M453.3 555.8h3" stroke="#111" stroke-width="1.3" fill="none"/>
<line x1="295.9" y1="31.8" x2="329.4" y2="31.8" stroke="#ff0000" stroke-width="2.1"/>
<line x1="295.9" y1="49.9" x2="329.4" y2="49.9" stroke="#0000ff" stroke-width="2.1"/>
<line x1="295.9" y1="67.9" x2="329.4" y2="67.9" stroke="#ff00ff" stroke-width="2.1"/>
<line x1="295.9" y1="86.0" x2="329.4" y2="86.0" stroke="#00ff00" stroke-width="2.1"/>
<line x1="295.9" y1="104.0" x2="329.4" y2="104.0" stroke="#06068a" stroke-width="2.1"/>
<line x1="692.2" y1="31.8" x2="725.6" y2="31.8" stroke="#ff0000" stroke-width="2.1"/>
<line x1="692.2" y1="49.9" x2="725.6" y2="49.9" stroke="#0000ff" stroke-width="2.1"/>
<line x1="692.2" y1="67.9" x2="725.6" y2="67.9" stroke="#ff00ff" stroke-width="2.1"/>
<line x1="692.2" y1="86.0" x2="725.6" y2="86.0" stroke="#00ff00" stroke-width="2.1"/>
<line x1="692.2" y1="104.0" x2="725.6" y2="104.0" stroke="#06068a" stroke-width="2.1"/>
<line x1="213.1" y1="346.5" x2="246.9" y2="346.5" stroke="#ff0000" stroke-width="2.1"/>
<line x1="213.1" y1="364.5" x2="246.9" y2="364.5" stroke="#0000ff" stroke-width="2.1"/>
<line x1="213.1" y1="382.5" x2="246.9" y2="382.5" stroke="#ff00ff" stroke-width="2.1"/>
<line x1="213.1" y1="400.5" x2="246.9" y2="400.5" stroke="#00ff00" stroke-width="2.1"/>
<line x1="213.1" y1="418.5" x2="246.9" y2="418.5" stroke="#06068a" stroke-width="2.1"/>
<line x1="621.2" y1="348.2" x2="654.8" y2="348.2" stroke="#ff0000" stroke-width="2.1"/>
<line x1="621.2" y1="366.2" x2="654.8" y2="366.2" stroke="#0000ff" stroke-width="2.1"/>
<line x1="621.2" y1="384.3" x2="654.8" y2="384.3" stroke="#ff00ff" stroke-width="2.1"/>
<line x1="621.2" y1="402.4" x2="654.8" y2="402.4" stroke="#00ff00" stroke-width="2.1"/>
<line x1="621.2" y1="420.4" x2="654.8" y2="420.4" stroke="#06068a" stroke-width="2.1"/>
<text transform="translate(51.22 284.62) scale(0.1440 0.1403)" font-family='"Liberation Serif", serif' font-size="100" fill="#1c1c1c">-8</text>
<text transform="translate(80.09 284.62) scale(0.1440 0.1403)" font-family='"Liberation Serif", serif' font-size="100" fill="#1c1c1c">-7</text>
<text transform="translate(109.02 284.62) scale(0.1440 0.1403)" font-family='"Liberation Serif", serif' font-size="100" fill="#1c1c1c">-6</text>
<text transform="translate(138.03 284.62) scale(0.1440 0.1403)" font-family='"Liberation Serif", serif' font-size="100" fill="#1c1c1c">-5</text>
<text transform="translate(166.75 284.62) scale(0.1440 0.1403)" font-family='"Liberation Serif", serif' font-size="100" fill="#1c1c1c">-4</text>
<text transform="translate(195.91 284.62) scale(0.1440 0.1403)" font-family='"Liberation Serif", serif' font-size="100" fill="#1c1c1c">-3</text>
<text transform="translate(224.91 284.62) scale(0.1440 0.1403)" font-family='"Liberation Serif", serif' font-size="100" fill="#1c1c1c">-2</text>
<text transform="translate(253.92 284.62) scale(0.1440 0.1403)" font-family='"Liberation Serif", serif' font-size="100" fill="#1c1c1c">-1</text>
<text transform="translate(285.39 284.62) scale(0.1440 0.1403)" font-family='"Liberation Serif", serif' font-size="100" fill="#1c1c1c">0</text>
<text transform="translate(314.11 284.62) scale(0.1440 0.1403)" font-family='"Liberation Serif", serif' font-size="100" fill="#1c1c1c">1</text>
<text transform="translate(343.41 284.62) scale(0.1440 0.1403)" font-family='"Liberation Serif", serif' font-size="100" fill="#1c1c1c">2</text>
<text transform="translate(372.13 284.62) scale(0.1440 0.1403)" font-family='"Liberation Serif", serif' font-size="100" fill="#1c1c1c">3</text>
<text transform="translate(37.38 15.92) scale(0.1440 0.1403)" font-family='"Liberation Serif", serif' font-size="100" fill="#1c1c1c">30</text>
<text transform="translate(37.38 79.92) scale(0.1440 0.1403)" font-family='"Liberation Serif", serif' font-size="100" fill="#1c1c1c">15</text>
<text transform="translate(44.58 143.92) scale(0.1440 0.1403)" font-family='"Liberation Serif", serif' font-size="100" fill="#1c1c1c">0</text>
<text transform="translate(32.62 207.92) scale(0.1440 0.1403)" font-family='"Liberation Serif", serif' font-size="100" fill="#1c1c1c">-15</text>
<text transform="translate(32.62 271.92) scale(0.1440 0.1403)" font-family='"Liberation Serif", serif' font-size="100" fill="#1c1c1c">-30</text>
<text transform="translate(175.84 310.08) scale(0.1561 0.1389)" font-family='"Liberation Serif", serif' font-size="100" font-weight="bold" fill="#0a0a0a">Energy (eV)</text>
<text transform="translate(15.58 180.32) rotate(-90) scale(0.1578 0.1344)" font-family='"Liberation Serif", serif' font-size="100" font-weight="bold" fill="#0a0a0a">PDOS (a.u.)</text>
<text transform="translate(447.22 284.62) scale(0.1440 0.1403)" font-family='"Liberation Serif", serif' font-size="100" fill="#1c1c1c">-8</text>
<text transform="translate(476.06 284.62) scale(0.1440 0.1403)" font-family='"Liberation Serif", serif' font-size="100" fill="#1c1c1c">-7</text>
<text transform="translate(504.97 284.62) scale(0.1440 0.1403)" font-family='"Liberation Serif", serif' font-size="100" fill="#1c1c1c">-6</text>
<text transform="translate(533.95 284.62) scale(0.1440 0.1403)" font-family='"Liberation Serif", serif' font-size="100" fill="#1c1c1c">-5</text>
<text transform="translate(562.64 284.62) scale(0.1440 0.1403)" font-family='"Liberation Serif", serif' font-size="100" fill="#1c1c1c">-4</text>
<text transform="translate(591.77 284.62) scale(0.1440 0.1403)" font-family='"Liberation Serif", serif' font-size="100" fill="#1c1c1c">-3</text>
<text transform="translate(620.75 284.62) scale(0.1440 0.1403)" font-family='"Liberation Serif", serif' font-size="100" fill="#1c1c1c">-2</text>
<text transform="translate(649.73 284.62) scale(0.1440 0.1403)" font-family='"Liberation Serif", serif' font-size="100" fill="#1c1c1c">-1</text>
<text transform="translate(681.17 284.62) scale(0.1440 0.1403)" font-family='"Liberation Serif", serif' font-size="100" fill="#1c1c1c">0</text>
<text transform="translate(709.87 284.62) scale(0.1440 0.1403)" font-family='"Liberation Serif", serif' font-size="100" fill="#1c1c1c">1</text>
<text transform="translate(739.13 284.62) scale(0.1440 0.1403)" font-family='"Liberation Serif", serif' font-size="100" fill="#1c1c1c">2</text>
<text transform="translate(767.83 284.62) scale(0.1440 0.1403)" font-family='"Liberation Serif", serif' font-size="100" fill="#1c1c1c">3</text>
<text transform="translate(433.38 15.92) scale(0.1440 0.1403)" font-family='"Liberation Serif", serif' font-size="100" fill="#1c1c1c">30</text>
<text transform="translate(433.38 79.92) scale(0.1440 0.1403)" font-family='"Liberation Serif", serif' font-size="100" fill="#1c1c1c">15</text>
<text transform="translate(440.58 143.92) scale(0.1440 0.1403)" font-family='"Liberation Serif", serif' font-size="100" fill="#1c1c1c">0</text>
<text transform="translate(428.62 207.92) scale(0.1440 0.1403)" font-family='"Liberation Serif", serif' font-size="100" fill="#1c1c1c">-15</text>
<text transform="translate(428.62 271.92) scale(0.1440 0.1403)" font-family='"Liberation Serif", serif' font-size="100" fill="#1c1c1c">-30</text>
<text transform="translate(571.69 310.08) scale(0.1561 0.1389)" font-family='"Liberation Serif", serif' font-size="100" font-weight="bold" fill="#0a0a0a">Energy (eV)</text>
<text transform="translate(411.58 180.32) rotate(-90) scale(0.1578 0.1344)" font-family='"Liberation Serif", serif' font-size="100" font-weight="bold" fill="#0a0a0a">PDOS (a.u.)</text>
<text transform="translate(51.20 605.02) scale(0.1440 0.1403)" font-family='"Liberation Serif", serif' font-size="100" fill="#1c1c1c">-2</text>
<text transform="translate(114.87 605.02) scale(0.1440 0.1403)" font-family='"Liberation Serif", serif' font-size="100" fill="#1c1c1c">-1</text>
<text transform="translate(181.00 605.02) scale(0.1440 0.1403)" font-family='"Liberation Serif", serif' font-size="100" fill="#1c1c1c">0</text>
<text transform="translate(244.38 605.02) scale(0.1440 0.1403)" font-family='"Liberation Serif", serif' font-size="100" fill="#1c1c1c">1</text>
<text transform="translate(308.34 605.02) scale(0.1440 0.1403)" font-family='"Liberation Serif", serif' font-size="100" fill="#1c1c1c">2</text>
<text transform="translate(371.73 605.02) scale(0.1440 0.1403)" font-family='"Liberation Serif", serif' font-size="100" fill="#1c1c1c">3</text>
<text transform="translate(37.28 335.22) scale(0.1440 0.1403)" font-family='"Liberation Serif", serif' font-size="100" fill="#1c1c1c">10</text>
<text transform="translate(44.48 399.49) scale(0.1440 0.1403)" font-family='"Liberation Serif", serif' font-size="100" fill="#1c1c1c">5</text>
<text transform="translate(44.48 463.77) scale(0.1440 0.1403)" font-family='"Liberation Serif", serif' font-size="100" fill="#1c1c1c">0</text>
<text transform="translate(39.72 528.04) scale(0.1440 0.1403)" font-family='"Liberation Serif", serif' font-size="100" fill="#1c1c1c">-5</text>
<text transform="translate(32.52 592.32) scale(0.1440 0.1403)" font-family='"Liberation Serif", serif' font-size="100" fill="#1c1c1c">-10</text>
<text transform="translate(175.59 629.80) scale(0.1561 0.1478)" font-family='"Liberation Serif", serif' font-size="100" font-weight="bold" fill="#0a0a0a">Energy (eV)</text>
<text transform="translate(15.48 500.17) rotate(-90) scale(0.1578 0.1344)" font-family='"Liberation Serif", serif' font-size="100" font-weight="bold" fill="#0a0a0a">PDOS (a.u.)</text>
<text transform="translate(447.10 605.02) scale(0.1440 0.1403)" font-family='"Liberation Serif", serif' font-size="100" fill="#1c1c1c">-2</text>
<text transform="translate(510.81 605.02) scale(0.1440 0.1403)" font-family='"Liberation Serif", serif' font-size="100" fill="#1c1c1c">-1</text>
<text transform="translate(576.98 605.02) scale(0.1440 0.1403)" font-family='"Liberation Serif", serif' font-size="100" fill="#1c1c1c">0</text>
<text transform="translate(640.40 605.02) scale(0.1440 0.1403)" font-family='"Liberation Serif", serif' font-size="100" fill="#1c1c1c">1</text>
<text transform="translate(704.40 605.02) scale(0.1440 0.1403)" font-family='"Liberation Serif", serif' font-size="100" fill="#1c1c1c">2</text>
<text transform="translate(767.83 605.02) scale(0.1440 0.1403)" font-family='"Liberation Serif", serif' font-size="100" fill="#1c1c1c">3</text>
<text transform="translate(433.18 335.22) scale(0.1440 0.1403)" font-family='"Liberation Serif", serif' font-size="100" fill="#1c1c1c">10</text>
<text transform="translate(440.38 399.49) scale(0.1440 0.1403)" font-family='"Liberation Serif", serif' font-size="100" fill="#1c1c1c">5</text>
<text transform="translate(440.38 463.77) scale(0.1440 0.1403)" font-family='"Liberation Serif", serif' font-size="100" fill="#1c1c1c">0</text>
<text transform="translate(435.62 528.04) scale(0.1440 0.1403)" font-family='"Liberation Serif", serif' font-size="100" fill="#1c1c1c">-5</text>
<text transform="translate(428.42 592.32) scale(0.1440 0.1403)" font-family='"Liberation Serif", serif' font-size="100" fill="#1c1c1c">-10</text>
<text transform="translate(571.59 629.80) scale(0.1561 0.1478)" font-family='"Liberation Serif", serif' font-size="100" font-weight="bold" fill="#0a0a0a">Energy (eV)</text>
<text transform="translate(411.38 500.17) rotate(-90) scale(0.1578 0.1344)" font-family='"Liberation Serif", serif' font-size="100" font-weight="bold" fill="#0a0a0a">PDOS (a.u.)</text>
<text transform="translate(3.89 21.11) scale(0.2519 0.2233)" font-family='"Liberation Serif", serif' font-size="100" font-weight="bold" fill="#0a0a0a">(a)</text>
<text transform="translate(401.91 21.22) scale(0.2482 0.2278)" font-family='"Liberation Serif", serif' font-size="100" font-weight="bold" fill="#0a0a0a">(b)</text>
<text transform="translate(5.20 341.26) scale(0.2495 0.2256)" font-family='"Liberation Serif", serif' font-size="100" font-weight="bold" fill="#0a0a0a">(c)</text>
<text transform="translate(401.91 341.17) scale(0.2482 0.2300)" font-family='"Liberation Serif", serif' font-size="100" font-weight="bold" fill="#0a0a0a">(d)</text>
<text transform="translate(65.07 44.61) scale(0.2127 0.1930)" font-family='"Liberation Serif", serif' font-size="100" font-weight="bold" fill="#0a0a0a">NiPN-NO</text>
<text transform="translate(466.88 44.66) scale(0.2082 0.2096)" font-family='"Liberation Serif", serif' font-size="100" font-weight="bold" fill="#0a0a0a">NiPN-NO<tspan font-size="82" dy="4">2</tspan></text>
<text transform="translate(256.68 574.02) scale(0.2120 0.1915)" font-family='"Liberation Serif", serif' font-size="100" font-weight="bold" fill="#0a0a0a">NiPN-NO</text>
<text transform="translate(654.69 574.85) scale(0.2066 0.2137)" font-family='"Liberation Serif", serif' font-size="100" font-weight="bold" fill="#0a0a0a">NiPN-NO<tspan font-size="82" dy="4">2</tspan></text>
<text transform="translate(332.96 36.80) scale(0.1459 0.1462)" font-family='"Liberation Serif", serif' font-size="100" fill="#1c1c1c">Ni 3<tspan font-style="italic">d</tspan></text>
<text transform="translate(332.96 54.85) scale(0.1459 0.1462)" font-family='"Liberation Serif", serif' font-size="100" fill="#1c1c1c">P 3<tspan font-style="italic">p</tspan></text>
<text transform="translate(332.96 72.90) scale(0.1459 0.1462)" font-family='"Liberation Serif", serif' font-size="100" fill="#1c1c1c">N 2<tspan font-style="italic">p</tspan></text>
<text transform="translate(332.82 90.95) scale(0.1459 0.1462)" font-family='"Liberation Serif", serif' font-size="100" fill="#1c1c1c">O 2<tspan font-style="italic">p</tspan></text>
<text transform="translate(333.11 109.00) scale(0.1459 0.1462)" font-family='"Liberation Serif", serif' font-size="100" fill="#1c1c1c">X 2<tspan font-style="italic">p</tspan></text>
<text transform="translate(729.46 36.80) scale(0.1459 0.1462)" font-family='"Liberation Serif", serif' font-size="100" fill="#1c1c1c">Ni 3<tspan font-style="italic">d</tspan></text>
<text transform="translate(729.46 54.85) scale(0.1459 0.1462)" font-family='"Liberation Serif", serif' font-size="100" fill="#1c1c1c">P 3<tspan font-style="italic">p</tspan></text>
<text transform="translate(729.46 72.90) scale(0.1459 0.1462)" font-family='"Liberation Serif", serif' font-size="100" fill="#1c1c1c">N 2<tspan font-style="italic">p</tspan></text>
<text transform="translate(729.32 90.95) scale(0.1459 0.1462)" font-family='"Liberation Serif", serif' font-size="100" fill="#1c1c1c">O 2<tspan font-style="italic">p</tspan></text>
<text transform="translate(729.61 109.00) scale(0.1459 0.1462)" font-family='"Liberation Serif", serif' font-size="100" fill="#1c1c1c">X 2<tspan font-style="italic">p</tspan></text>
<text transform="translate(250.06 351.50) scale(0.1459 0.1462)" font-family='"Liberation Serif", serif' font-size="100" fill="#1c1c1c">Ni 3<tspan font-style="italic">d</tspan></text>
<text transform="translate(250.06 369.50) scale(0.1459 0.1462)" font-family='"Liberation Serif", serif' font-size="100" fill="#1c1c1c">P 3<tspan font-style="italic">p</tspan></text>
<text transform="translate(250.06 387.50) scale(0.1459 0.1462)" font-family='"Liberation Serif", serif' font-size="100" fill="#1c1c1c">N 2<tspan font-style="italic">p</tspan></text>
<text transform="translate(249.92 405.50) scale(0.1459 0.1462)" font-family='"Liberation Serif", serif' font-size="100" fill="#1c1c1c">O 2<tspan font-style="italic">p</tspan></text>
<text transform="translate(250.21 423.50) scale(0.1459 0.1462)" font-family='"Liberation Serif", serif' font-size="100" fill="#1c1c1c">X 2<tspan font-style="italic">p</tspan></text>
<text transform="translate(657.86 353.20) scale(0.1459 0.1462)" font-family='"Liberation Serif", serif' font-size="100" fill="#1c1c1c">Ni 3<tspan font-style="italic">d</tspan></text>
<text transform="translate(657.86 371.25) scale(0.1459 0.1462)" font-family='"Liberation Serif", serif' font-size="100" fill="#1c1c1c">P 3<tspan font-style="italic">p</tspan></text>
<text transform="translate(657.86 389.30) scale(0.1459 0.1462)" font-family='"Liberation Serif", serif' font-size="100" fill="#1c1c1c">N 2<tspan font-style="italic">p</tspan></text>
<text transform="translate(657.72 407.35) scale(0.1459 0.1462)" font-family='"Liberation Serif", serif' font-size="100" fill="#1c1c1c">O 2<tspan font-style="italic">p</tspan></text>
<text transform="translate(658.01 425.40) scale(0.1459 0.1462)" font-family='"Liberation Serif", serif' font-size="100" fill="#1c1c1c">X 2<tspan font-style="italic">p</tspan></text>
</svg></body></html>
